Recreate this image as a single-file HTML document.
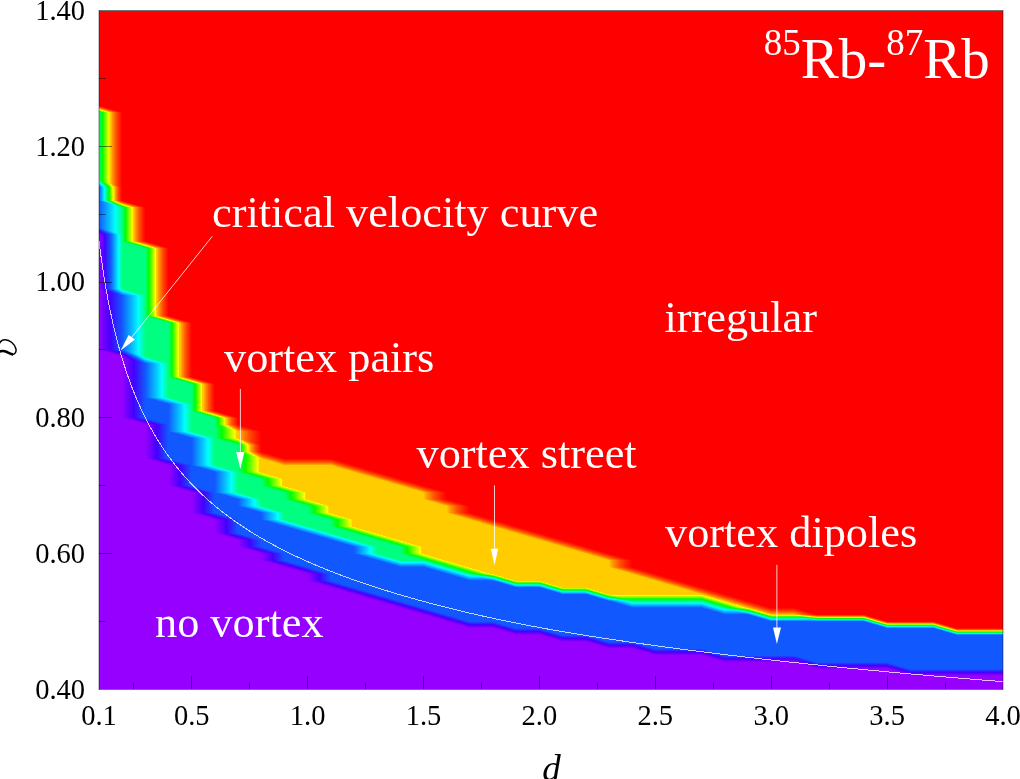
<!DOCTYPE html><html><head><meta charset="utf-8"><style>html,body{margin:0;padding:0;background:#fff;overflow:hidden}svg{display:block}text{font-family:"Liberation Serif",serif}</style></head><body><svg width="1020" height="779" viewBox="0 0 1020 779"><defs><filter id="nf"><feOffset/></filter><linearGradient id="b01"><stop offset="0" stop-color="#9500ff"/><stop offset=".5" stop-color="#4400ff"/><stop offset="1" stop-color="#1159ff"/></linearGradient><linearGradient id="b02"><stop offset="0" stop-color="#9500ff"/><stop offset=".25" stop-color="#4400ff"/><stop offset=".5" stop-color="#1159ff"/><stop offset=".62" stop-color="#0b8fff"/><stop offset=".73" stop-color="#06c5ff"/><stop offset=".85" stop-color="#00ffff"/><stop offset=".85" stop-color="#00ffff"/><stop offset=".85" stop-color="#00ffff"/><stop offset=".85" stop-color="#00ffff"/><stop offset="1" stop-color="#00ff80"/></linearGradient><linearGradient id="b12"><stop offset="0" stop-color="#1159ff"/><stop offset=".23" stop-color="#0b8fff"/><stop offset=".47" stop-color="#06c5ff"/><stop offset=".7" stop-color="#00ffff"/><stop offset=".7" stop-color="#00ffff"/><stop offset=".7" stop-color="#00ffff"/><stop offset=".7" stop-color="#00ffff"/><stop offset="1" stop-color="#00ff80"/></linearGradient><linearGradient id="b13"><stop offset="0" stop-color="#1159ff"/><stop offset=".12" stop-color="#0b8fff"/><stop offset=".23" stop-color="#06c5ff"/><stop offset=".35" stop-color="#00ffff"/><stop offset=".35" stop-color="#00ffff"/><stop offset=".35" stop-color="#00ffff"/><stop offset=".35" stop-color="#00ffff"/><stop offset=".5" stop-color="#00ff80"/><stop offset=".65" stop-color="#00ff00"/><stop offset=".65" stop-color="#00ff00"/><stop offset=".93" stop-color="#ffff00"/><stop offset=".94" stop-color="#ffff00"/><stop offset=".96" stop-color="#ffcc00"/><stop offset="1" stop-color="#ffcc00"/></linearGradient><linearGradient id="b14"><stop offset="0" stop-color="#1159ff"/><stop offset=".08" stop-color="#0b8fff"/><stop offset=".16" stop-color="#06c5ff"/><stop offset=".23" stop-color="#00ffff"/><stop offset=".23" stop-color="#00ffff"/><stop offset=".23" stop-color="#00ffff"/><stop offset=".23" stop-color="#00ffff"/><stop offset=".33" stop-color="#00ff80"/><stop offset=".43" stop-color="#00ff00"/><stop offset=".43" stop-color="#00ff00"/><stop offset=".62" stop-color="#ffff00"/><stop offset=".62" stop-color="#ffff00"/><stop offset=".64" stop-color="#ffcc00"/><stop offset=".67" stop-color="#ffcc00"/><stop offset=".71" stop-color="#ffa200"/><stop offset=".82" stop-color="#ff5100"/><stop offset=".92" stop-color="#ff2000"/><stop offset="1" stop-color="#ff0000"/></linearGradient><linearGradient id="b23"><stop offset="0" stop-color="#00ff80"/><stop offset=".3" stop-color="#00ff00"/><stop offset=".3" stop-color="#00ff00"/><stop offset=".87" stop-color="#ffff00"/><stop offset=".87" stop-color="#ffff00"/><stop offset=".92" stop-color="#ffcc00"/><stop offset="1" stop-color="#ffcc00"/></linearGradient><linearGradient id="b24"><stop offset="0" stop-color="#00ff80"/><stop offset=".15" stop-color="#00ff00"/><stop offset=".15" stop-color="#00ff00"/><stop offset=".43" stop-color="#ffff00"/><stop offset=".44" stop-color="#ffff00"/><stop offset=".46" stop-color="#ffcc00"/><stop offset=".5" stop-color="#ffcc00"/><stop offset=".56" stop-color="#ffa200"/><stop offset=".74" stop-color="#ff5100"/><stop offset=".89" stop-color="#ff2000"/><stop offset="1" stop-color="#ff0000"/></linearGradient><linearGradient id="b34"><stop offset="0" stop-color="#ffcc00"/><stop offset=".12" stop-color="#ffa200"/><stop offset=".47" stop-color="#ff5100"/><stop offset=".77" stop-color="#ff2000"/><stop offset="1" stop-color="#ff0000"/></linearGradient><linearGradient id="g0" href="#b01" gradientUnits="userSpaceOnUse" x1="113.84" y1="354.27" x2="115.67" y2="348.02"/><linearGradient id="g1" href="#b01" gradientUnits="userSpaceOnUse" x1="99" y1="0" x2="122.18" y2="0"/><linearGradient id="g2" href="#b02" gradientUnits="userSpaceOnUse" x1="111.49" y1="296.15" x2="117.41" y2="286.05"/><linearGradient id="g3" href="#b01" gradientUnits="userSpaceOnUse" x1="99" y1="293.36" x2="122.18" y2="293.36"/><linearGradient id="g4" href="#b02" gradientUnits="userSpaceOnUse" x1="99" y1="0" x2="122.18" y2="0"/><linearGradient id="g5" href="#b12" gradientUnits="userSpaceOnUse" x1="99" y1="230.01" x2="122.18" y2="230.01"/><linearGradient id="g6" href="#b02" gradientUnits="userSpaceOnUse" x1="103.77" y1="237.33" x2="109.69" y2="227.22"/><linearGradient id="g7" href="#b12" gradientUnits="userSpaceOnUse" x1="99" y1="0" x2="122.18" y2="0"/><linearGradient id="g8" href="#b14" gradientUnits="userSpaceOnUse" x1="112.79" y1="206.66" x2="116.54" y2="198.12"/><linearGradient id="g9" href="#b12" gradientUnits="userSpaceOnUse" x1="99" y1="205.12" x2="122.18" y2="205.12"/><linearGradient id="g10" href="#b14" gradientUnits="userSpaceOnUse" x1="99" y1="0" x2="122.18" y2="0"/><linearGradient id="g11" href="#b24" gradientUnits="userSpaceOnUse" x1="99" y1="182.5" x2="122.18" y2="182.5"/><linearGradient id="g12" href="#b14" gradientUnits="userSpaceOnUse" x1="102.24" y1="189.87" x2="112.34" y2="178.38"/><linearGradient id="g13" href="#b24" gradientUnits="userSpaceOnUse" x1="99" y1="0" x2="122.18" y2="0"/><linearGradient id="g14" href="#b24" gradientUnits="userSpaceOnUse" x1="105.51" y1="114.27" x2="107.34" y2="108.02"/><linearGradient id="g15" href="#b01" gradientUnits="userSpaceOnUse" x1="137.02" y1="422.15" x2="138.85" y2="415.89"/><linearGradient id="g16" href="#b01" gradientUnits="userSpaceOnUse" x1="122.18" y1="0" x2="145.36" y2="0"/><linearGradient id="g17" href="#b02" gradientUnits="userSpaceOnUse" x1="134.67" y1="364.03" x2="140.59" y2="353.92"/><linearGradient id="g18" href="#b01" gradientUnits="userSpaceOnUse" x1="122.18" y1="361.24" x2="145.36" y2="361.24"/><linearGradient id="g19" href="#b12" gradientUnits="userSpaceOnUse" x1="122.18" y1="352.19" x2="145.36" y2="352.19"/><linearGradient id="g20" href="#b02" gradientUnits="userSpaceOnUse" x1="126.95" y1="359.5" x2="132.87" y2="349.4"/><linearGradient id="g21" href="#b12" gradientUnits="userSpaceOnUse" x1="122.18" y1="0" x2="145.36" y2="0"/><linearGradient id="g22" href="#b12" gradientUnits="userSpaceOnUse" x1="128.69" y1="297.53" x2="130.52" y2="291.28"/><linearGradient id="g23" href="#b24" gradientUnits="userSpaceOnUse" x1="137.02" y1="245.67" x2="138.85" y2="239.42"/><linearGradient id="g24" href="#b24" gradientUnits="userSpaceOnUse" x1="122.18" y1="0" x2="145.36" y2="0"/><linearGradient id="g25" href="#b24" gradientUnits="userSpaceOnUse" x1="128.69" y1="209.29" x2="130.52" y2="203.04"/><linearGradient id="g26" href="#b01" gradientUnits="userSpaceOnUse" x1="160.2" y1="462.87" x2="162.03" y2="456.62"/><linearGradient id="g27" href="#b01" gradientUnits="userSpaceOnUse" x1="145.36" y1="0" x2="168.54" y2="0"/><linearGradient id="g28" href="#b01" gradientUnits="userSpaceOnUse" x1="151.87" y1="426.49" x2="153.7" y2="420.24"/><linearGradient id="g29" href="#b12" gradientUnits="userSpaceOnUse" x1="160.2" y1="401.78" x2="162.03" y2="395.53"/><linearGradient id="g30" href="#b12" gradientUnits="userSpaceOnUse" x1="145.36" y1="0" x2="168.54" y2="0"/><linearGradient id="g31" href="#b12" gradientUnits="userSpaceOnUse" x1="151.87" y1="365.41" x2="153.7" y2="359.15"/><linearGradient id="g32" href="#b24" gradientUnits="userSpaceOnUse" x1="160.2" y1="320.33" x2="162.03" y2="314.08"/><linearGradient id="g33" href="#b24" gradientUnits="userSpaceOnUse" x1="145.36" y1="0" x2="168.54" y2="0"/><linearGradient id="g34" href="#b24" gradientUnits="userSpaceOnUse" x1="151.87" y1="250.02" x2="153.7" y2="243.77"/><linearGradient id="g35" href="#b01" gradientUnits="userSpaceOnUse" x1="183.38" y1="490.02" x2="185.21" y2="483.77"/><linearGradient id="g36" href="#b01" gradientUnits="userSpaceOnUse" x1="168.54" y1="0" x2="191.72" y2="0"/><linearGradient id="g37" href="#b01" gradientUnits="userSpaceOnUse" x1="175.04" y1="467.22" x2="176.88" y2="460.97"/><linearGradient id="g38" href="#b12" gradientUnits="userSpaceOnUse" x1="183.38" y1="435.72" x2="185.21" y2="429.47"/><linearGradient id="g39" href="#b12" gradientUnits="userSpaceOnUse" x1="168.54" y1="0" x2="191.72" y2="0"/><linearGradient id="g40" href="#b12" gradientUnits="userSpaceOnUse" x1="175.04" y1="406.13" x2="176.88" y2="399.88"/><linearGradient id="g41" href="#b24" gradientUnits="userSpaceOnUse" x1="183.38" y1="381.42" x2="185.21" y2="375.17"/><linearGradient id="g42" href="#b24" gradientUnits="userSpaceOnUse" x1="168.54" y1="0" x2="191.72" y2="0"/><linearGradient id="g43" href="#b24" gradientUnits="userSpaceOnUse" x1="175.04" y1="324.68" x2="176.88" y2="318.43"/><linearGradient id="g44" href="#b01" gradientUnits="userSpaceOnUse" x1="206.56" y1="517.17" x2="208.39" y2="510.92"/><linearGradient id="g45" href="#b01" gradientUnits="userSpaceOnUse" x1="191.72" y1="0" x2="214.9" y2="0"/><linearGradient id="g46" href="#b01" gradientUnits="userSpaceOnUse" x1="198.22" y1="494.37" x2="200.05" y2="488.12"/><linearGradient id="g47" href="#b12" gradientUnits="userSpaceOnUse" x1="206.56" y1="469.66" x2="208.39" y2="463.41"/><linearGradient id="g48" href="#b12" gradientUnits="userSpaceOnUse" x1="191.72" y1="0" x2="214.9" y2="0"/><linearGradient id="g49" href="#b12" gradientUnits="userSpaceOnUse" x1="198.22" y1="440.07" x2="200.05" y2="433.82"/><linearGradient id="g50" href="#b24" gradientUnits="userSpaceOnUse" x1="206.56" y1="415.36" x2="208.39" y2="409.11"/><linearGradient id="g51" href="#b24" gradientUnits="userSpaceOnUse" x1="191.72" y1="0" x2="214.9" y2="0"/><linearGradient id="g52" href="#b24" gradientUnits="userSpaceOnUse" x1="198.22" y1="385.77" x2="200.05" y2="379.52"/><linearGradient id="g53" href="#b01" gradientUnits="userSpaceOnUse" x1="229.74" y1="537.53" x2="231.57" y2="531.28"/><linearGradient id="g54" href="#b01" gradientUnits="userSpaceOnUse" x1="214.9" y1="0" x2="238.08" y2="0"/><linearGradient id="g55" href="#b01" gradientUnits="userSpaceOnUse" x1="221.4" y1="521.52" x2="223.23" y2="515.27"/><linearGradient id="g56" href="#b12" gradientUnits="userSpaceOnUse" x1="229.74" y1="496.81" x2="231.57" y2="490.56"/><linearGradient id="g57" href="#b12" gradientUnits="userSpaceOnUse" x1="214.9" y1="0" x2="238.08" y2="0"/><linearGradient id="g58" href="#b12" gradientUnits="userSpaceOnUse" x1="221.4" y1="474.01" x2="223.23" y2="467.75"/><linearGradient id="g59" href="#b23" gradientUnits="userSpaceOnUse" x1="229.74" y1="442.51" x2="231.57" y2="436.26"/><linearGradient id="g60" href="#b23" gradientUnits="userSpaceOnUse" x1="214.9" y1="0" x2="238.08" y2="0"/><linearGradient id="g61" href="#b24" gradientUnits="userSpaceOnUse" x1="227.39" y1="431.9" x2="233.31" y2="421.8"/><linearGradient id="g62" href="#b23" gradientUnits="userSpaceOnUse" x1="214.9" y1="429.11" x2="238.08" y2="429.11"/><linearGradient id="g63" href="#b24" gradientUnits="userSpaceOnUse" x1="214.9" y1="0" x2="238.08" y2="0"/><linearGradient id="g64" href="#b24" gradientUnits="userSpaceOnUse" x1="221.4" y1="419.71" x2="223.23" y2="413.45"/><linearGradient id="g65" href="#b01" gradientUnits="userSpaceOnUse" x1="252.92" y1="551.11" x2="254.75" y2="544.86"/><linearGradient id="g66" href="#b01" gradientUnits="userSpaceOnUse" x1="238.08" y1="0" x2="261.26" y2="0"/><linearGradient id="g67" href="#b01" gradientUnits="userSpaceOnUse" x1="244.58" y1="541.88" x2="246.41" y2="535.63"/><linearGradient id="g68" href="#b12" gradientUnits="userSpaceOnUse" x1="252.92" y1="510.38" x2="254.75" y2="504.13"/><linearGradient id="g69" href="#b12" gradientUnits="userSpaceOnUse" x1="238.08" y1="0" x2="261.26" y2="0"/><linearGradient id="g70" href="#b12" gradientUnits="userSpaceOnUse" x1="244.58" y1="501.16" x2="246.41" y2="494.9"/><linearGradient id="g71" href="#b23" gradientUnits="userSpaceOnUse" x1="252.92" y1="476.45" x2="254.75" y2="470.19"/><linearGradient id="g72" href="#b23" gradientUnits="userSpaceOnUse" x1="238.08" y1="0" x2="261.26" y2="0"/><linearGradient id="g73" href="#b24" gradientUnits="userSpaceOnUse" x1="250.57" y1="459.05" x2="256.49" y2="448.95"/><linearGradient id="g74" href="#b23" gradientUnits="userSpaceOnUse" x1="238.08" y1="456.26" x2="261.26" y2="456.26"/><linearGradient id="g75" href="#b24" gradientUnits="userSpaceOnUse" x1="238.08" y1="0" x2="261.26" y2="0"/><linearGradient id="g76" href="#b34" gradientUnits="userSpaceOnUse" x1="238.08" y1="440.42" x2="261.26" y2="440.42"/><linearGradient id="g77" href="#b24" gradientUnits="userSpaceOnUse" x1="242.84" y1="447.74" x2="248.76" y2="437.63"/><linearGradient id="g78" href="#b34" gradientUnits="userSpaceOnUse" x1="238.08" y1="0" x2="261.26" y2="0"/><linearGradient id="g79" href="#b34" gradientUnits="userSpaceOnUse" x1="244.58" y1="433.28" x2="246.41" y2="427.03"/><linearGradient id="g80" href="#b01" gradientUnits="userSpaceOnUse" x1="276.1" y1="564.68" x2="277.93" y2="558.43"/><linearGradient id="g81" href="#b01" gradientUnits="userSpaceOnUse" x1="261.26" y1="0" x2="284.44" y2="0"/><linearGradient id="g82" href="#b01" gradientUnits="userSpaceOnUse" x1="267.76" y1="555.46" x2="269.59" y2="549.2"/><linearGradient id="g83" href="#b12" gradientUnits="userSpaceOnUse" x1="276.1" y1="523.96" x2="277.93" y2="517.71"/><linearGradient id="g84" href="#b12" gradientUnits="userSpaceOnUse" x1="261.26" y1="0" x2="284.44" y2="0"/><linearGradient id="g85" href="#b12" gradientUnits="userSpaceOnUse" x1="267.76" y1="514.73" x2="269.59" y2="508.48"/><linearGradient id="g86" href="#b23" gradientUnits="userSpaceOnUse" x1="276.1" y1="490.02" x2="277.93" y2="483.77"/><linearGradient id="g87" href="#b23" gradientUnits="userSpaceOnUse" x1="261.26" y1="0" x2="284.44" y2="0"/><linearGradient id="g88" href="#b23" gradientUnits="userSpaceOnUse" x1="267.76" y1="480.79" x2="269.59" y2="474.54"/><linearGradient id="g89" href="#b34" gradientUnits="userSpaceOnUse" x1="276.1" y1="462.87" x2="277.93" y2="456.62"/><linearGradient id="g90" href="#b34" gradientUnits="userSpaceOnUse" x1="267.76" y1="460.43" x2="269.59" y2="454.18"/><linearGradient id="g91" href="#b01" gradientUnits="userSpaceOnUse" x1="299.28" y1="571.47" x2="301.11" y2="565.22"/><linearGradient id="g92" href="#b01" gradientUnits="userSpaceOnUse" x1="290.94" y1="569.03" x2="292.77" y2="562.78"/><linearGradient id="g93" href="#b12" gradientUnits="userSpaceOnUse" x1="299.28" y1="530.75" x2="301.11" y2="524.49"/><linearGradient id="g94" href="#b12" gradientUnits="userSpaceOnUse" x1="290.94" y1="528.31" x2="292.77" y2="522.05"/><linearGradient id="g95" href="#b23" gradientUnits="userSpaceOnUse" x1="299.28" y1="503.6" x2="301.11" y2="497.34"/><linearGradient id="g96" href="#b23" gradientUnits="userSpaceOnUse" x1="284.44" y1="0" x2="307.62" y2="0"/><linearGradient id="g97" href="#b23" gradientUnits="userSpaceOnUse" x1="290.94" y1="494.37" x2="292.77" y2="488.12"/><linearGradient id="g98" href="#b34" gradientUnits="userSpaceOnUse" x1="299.89" y1="465.31" x2="299.89" y2="458.52"/><linearGradient id="g99" href="#b34" gradientUnits="userSpaceOnUse" x1="292.16" y1="465.31" x2="292.16" y2="458.52"/><linearGradient id="g100" href="#b01" gradientUnits="userSpaceOnUse" x1="322.46" y1="585.05" x2="324.29" y2="578.79"/><linearGradient id="g101" href="#b01" gradientUnits="userSpaceOnUse" x1="307.62" y1="0" x2="330.79" y2="0"/><linearGradient id="g102" href="#b01" gradientUnits="userSpaceOnUse" x1="314.12" y1="575.82" x2="315.95" y2="569.57"/><linearGradient id="g103" href="#b12" gradientUnits="userSpaceOnUse" x1="322.46" y1="537.53" x2="324.29" y2="531.28"/><linearGradient id="g104" href="#b12" gradientUnits="userSpaceOnUse" x1="314.12" y1="535.09" x2="315.95" y2="528.84"/><linearGradient id="g105" href="#b23" gradientUnits="userSpaceOnUse" x1="322.46" y1="517.17" x2="324.29" y2="510.92"/><linearGradient id="g106" href="#b23" gradientUnits="userSpaceOnUse" x1="307.62" y1="0" x2="330.79" y2="0"/><linearGradient id="g107" href="#b23" gradientUnits="userSpaceOnUse" x1="314.12" y1="507.94" x2="315.95" y2="501.69"/><linearGradient id="g108" href="#b34" gradientUnits="userSpaceOnUse" x1="323.07" y1="465.31" x2="323.07" y2="458.52"/><linearGradient id="g109" href="#b34" gradientUnits="userSpaceOnUse" x1="315.34" y1="465.31" x2="315.34" y2="458.53"/><linearGradient id="g110" href="#b01" gradientUnits="userSpaceOnUse" x1="345.64" y1="591.83" x2="347.47" y2="585.58"/><linearGradient id="g111" href="#b01" gradientUnits="userSpaceOnUse" x1="337.3" y1="589.39" x2="339.13" y2="583.14"/><linearGradient id="g112" href="#b12" gradientUnits="userSpaceOnUse" x1="345.64" y1="544.32" x2="347.47" y2="538.07"/><linearGradient id="g113" href="#b12" gradientUnits="userSpaceOnUse" x1="337.3" y1="541.88" x2="339.13" y2="535.63"/><linearGradient id="g114" href="#b23" gradientUnits="userSpaceOnUse" x1="345.64" y1="530.75" x2="347.47" y2="524.49"/><linearGradient id="g115" href="#b23" gradientUnits="userSpaceOnUse" x1="330.79" y1="0" x2="353.97" y2="0"/><linearGradient id="g116" href="#b23" gradientUnits="userSpaceOnUse" x1="337.3" y1="521.52" x2="339.13" y2="515.27"/><linearGradient id="g117" href="#b34" gradientUnits="userSpaceOnUse" x1="345.64" y1="469.66" x2="347.47" y2="463.41"/><linearGradient id="g118" href="#b34" gradientUnits="userSpaceOnUse" x1="337.3" y1="467.22" x2="339.13" y2="460.97"/><linearGradient id="g119" href="#b01" gradientUnits="userSpaceOnUse" x1="368.82" y1="598.62" x2="370.65" y2="592.37"/><linearGradient id="g120" href="#b01" gradientUnits="userSpaceOnUse" x1="360.48" y1="596.18" x2="362.31" y2="589.93"/><linearGradient id="g121" href="#b12" gradientUnits="userSpaceOnUse" x1="368.82" y1="557.9" x2="370.65" y2="551.64"/><linearGradient id="g122" href="#b12" gradientUnits="userSpaceOnUse" x1="353.97" y1="0" x2="377.15" y2="0"/><linearGradient id="g123" href="#b12" gradientUnits="userSpaceOnUse" x1="360.48" y1="548.67" x2="362.31" y2="542.42"/><linearGradient id="g124" href="#b23" gradientUnits="userSpaceOnUse" x1="368.82" y1="537.53" x2="370.65" y2="531.28"/><linearGradient id="g125" href="#b23" gradientUnits="userSpaceOnUse" x1="360.48" y1="535.09" x2="362.31" y2="528.84"/><linearGradient id="g126" href="#b34" gradientUnits="userSpaceOnUse" x1="368.82" y1="476.45" x2="370.65" y2="470.19"/><linearGradient id="g127" href="#b34" gradientUnits="userSpaceOnUse" x1="360.48" y1="474.01" x2="362.31" y2="467.75"/><linearGradient id="g128" href="#b01" gradientUnits="userSpaceOnUse" x1="392" y1="605.41" x2="393.83" y2="599.16"/><linearGradient id="g129" href="#b01" gradientUnits="userSpaceOnUse" x1="383.66" y1="602.97" x2="385.49" y2="596.72"/><linearGradient id="g130" href="#b12" gradientUnits="userSpaceOnUse" x1="392" y1="564.68" x2="393.83" y2="558.43"/><linearGradient id="g131" href="#b12" gradientUnits="userSpaceOnUse" x1="383.66" y1="562.24" x2="385.49" y2="555.99"/><linearGradient id="g132" href="#b23" gradientUnits="userSpaceOnUse" x1="392" y1="544.32" x2="393.83" y2="538.07"/><linearGradient id="g133" href="#b23" gradientUnits="userSpaceOnUse" x1="383.66" y1="541.88" x2="385.49" y2="535.63"/><linearGradient id="g134" href="#b34" gradientUnits="userSpaceOnUse" x1="392" y1="483.23" x2="393.83" y2="476.98"/><linearGradient id="g135" href="#b34" gradientUnits="userSpaceOnUse" x1="383.66" y1="480.79" x2="385.49" y2="474.54"/><linearGradient id="g136" href="#b01" gradientUnits="userSpaceOnUse" x1="415.18" y1="612.2" x2="417.01" y2="605.94"/><linearGradient id="g137" href="#b01" gradientUnits="userSpaceOnUse" x1="406.84" y1="609.76" x2="408.67" y2="603.5"/><linearGradient id="g138" href="#b12" gradientUnits="userSpaceOnUse" x1="415.79" y1="567.12" x2="415.79" y2="560.34"/><linearGradient id="g139" href="#b12" gradientUnits="userSpaceOnUse" x1="408.06" y1="567.12" x2="408.06" y2="560.34"/><linearGradient id="g140" href="#b23" gradientUnits="userSpaceOnUse" x1="415.18" y1="557.9" x2="417.01" y2="551.64"/><linearGradient id="g141" href="#b23" gradientUnits="userSpaceOnUse" x1="400.33" y1="0" x2="423.51" y2="0"/><linearGradient id="g142" href="#b23" gradientUnits="userSpaceOnUse" x1="406.84" y1="548.67" x2="408.67" y2="542.42"/><linearGradient id="g143" href="#b34" gradientUnits="userSpaceOnUse" x1="415.18" y1="490.02" x2="417.01" y2="483.77"/><linearGradient id="g144" href="#b34" gradientUnits="userSpaceOnUse" x1="406.84" y1="487.58" x2="408.67" y2="481.33"/><linearGradient id="g145" href="#b01" gradientUnits="userSpaceOnUse" x1="438.36" y1="618.98" x2="440.19" y2="612.73"/><linearGradient id="g146" href="#b01" gradientUnits="userSpaceOnUse" x1="430.02" y1="616.54" x2="431.85" y2="610.29"/><linearGradient id="g147" href="#b12" gradientUnits="userSpaceOnUse" x1="438.36" y1="571.47" x2="440.19" y2="565.22"/><linearGradient id="g148" href="#b23" gradientUnits="userSpaceOnUse" x1="438.36" y1="564.68" x2="440.19" y2="558.43"/><linearGradient id="g149" href="#b12" gradientUnits="userSpaceOnUse" x1="430.02" y1="569.03" x2="431.85" y2="562.78"/><linearGradient id="g150" href="#b23" gradientUnits="userSpaceOnUse" x1="430.02" y1="562.24" x2="431.85" y2="555.99"/><linearGradient id="g151" href="#b34" gradientUnits="userSpaceOnUse" x1="438.36" y1="503.6" x2="440.19" y2="497.34"/><linearGradient id="g152" href="#b34" gradientUnits="userSpaceOnUse" x1="423.51" y1="0" x2="446.69" y2="0"/><linearGradient id="g153" href="#b34" gradientUnits="userSpaceOnUse" x1="430.02" y1="494.37" x2="431.85" y2="488.12"/><linearGradient id="g154" href="#b01" gradientUnits="userSpaceOnUse" x1="461.54" y1="625.77" x2="463.37" y2="619.52"/><linearGradient id="g155" href="#b01" gradientUnits="userSpaceOnUse" x1="453.2" y1="623.33" x2="455.03" y2="617.08"/><linearGradient id="g156" href="#b12" gradientUnits="userSpaceOnUse" x1="461.54" y1="578.26" x2="463.37" y2="572.01"/><linearGradient id="g157" href="#b23" gradientUnits="userSpaceOnUse" x1="461.54" y1="571.47" x2="463.37" y2="565.22"/><linearGradient id="g158" href="#b12" gradientUnits="userSpaceOnUse" x1="453.2" y1="575.82" x2="455.03" y2="569.57"/><linearGradient id="g159" href="#b23" gradientUnits="userSpaceOnUse" x1="453.2" y1="569.03" x2="455.03" y2="562.78"/><linearGradient id="g160" href="#b34" gradientUnits="userSpaceOnUse" x1="461.54" y1="517.17" x2="463.37" y2="510.92"/><linearGradient id="g161" href="#b34" gradientUnits="userSpaceOnUse" x1="446.69" y1="0" x2="469.87" y2="0"/><linearGradient id="g162" href="#b34" gradientUnits="userSpaceOnUse" x1="453.2" y1="507.94" x2="455.03" y2="501.69"/><linearGradient id="g163" href="#b01" gradientUnits="userSpaceOnUse" x1="485.32" y1="628.21" x2="485.32" y2="621.43"/><linearGradient id="g164" href="#b01" gradientUnits="userSpaceOnUse" x1="477.6" y1="628.21" x2="477.6" y2="621.42"/><linearGradient id="g165" href="#b13" gradientUnits="userSpaceOnUse" x1="484.84" y1="579.5" x2="485.81" y2="572.85"/><linearGradient id="g166" href="#b12" gradientUnits="userSpaceOnUse" x1="477.6" y1="580.7" x2="477.6" y2="573.91"/><linearGradient id="g167" href="#b23" gradientUnits="userSpaceOnUse" x1="476.38" y1="575.82" x2="478.21" y2="569.57"/><linearGradient id="g168" href="#b34" gradientUnits="userSpaceOnUse" x1="484.71" y1="523.96" x2="486.55" y2="517.71"/><linearGradient id="g169" href="#b34" gradientUnits="userSpaceOnUse" x1="476.38" y1="521.52" x2="478.21" y2="515.27"/><linearGradient id="g170" href="#b01" gradientUnits="userSpaceOnUse" x1="507.89" y1="632.56" x2="509.72" y2="626.31"/><linearGradient id="g171" href="#b01" gradientUnits="userSpaceOnUse" x1="499.56" y1="630.12" x2="501.39" y2="623.87"/><linearGradient id="g172" href="#b13" gradientUnits="userSpaceOnUse" x1="507.89" y1="585.05" x2="509.72" y2="578.79"/><linearGradient id="g173" href="#b13" gradientUnits="userSpaceOnUse" x1="499.56" y1="582.61" x2="501.39" y2="576.35"/><linearGradient id="g174" href="#b34" gradientUnits="userSpaceOnUse" x1="507.89" y1="530.75" x2="509.72" y2="524.49"/><linearGradient id="g175" href="#b34" gradientUnits="userSpaceOnUse" x1="499.56" y1="528.31" x2="501.39" y2="522.05"/><linearGradient id="g176" href="#b01" gradientUnits="userSpaceOnUse" x1="531.68" y1="635" x2="531.68" y2="628.21"/><linearGradient id="g177" href="#b01" gradientUnits="userSpaceOnUse" x1="523.96" y1="635" x2="523.96" y2="628.21"/><linearGradient id="g178" href="#b13" gradientUnits="userSpaceOnUse" x1="531.68" y1="587.49" x2="531.68" y2="580.7"/><linearGradient id="g179" href="#b13" gradientUnits="userSpaceOnUse" x1="523.96" y1="587.49" x2="523.96" y2="580.7"/><linearGradient id="g180" href="#b34" gradientUnits="userSpaceOnUse" x1="531.07" y1="537.53" x2="532.9" y2="531.28"/><linearGradient id="g181" href="#b34" gradientUnits="userSpaceOnUse" x1="522.74" y1="535.09" x2="524.57" y2="528.84"/><linearGradient id="g182" href="#b01" gradientUnits="userSpaceOnUse" x1="554.25" y1="639.35" x2="556.08" y2="633.09"/><linearGradient id="g183" href="#b01" gradientUnits="userSpaceOnUse" x1="545.92" y1="636.91" x2="547.75" y2="630.65"/><linearGradient id="g184" href="#b13" gradientUnits="userSpaceOnUse" x1="554.25" y1="591.83" x2="556.08" y2="585.58"/><linearGradient id="g185" href="#b13" gradientUnits="userSpaceOnUse" x1="545.92" y1="589.39" x2="547.75" y2="583.14"/><linearGradient id="g186" href="#b34" gradientUnits="userSpaceOnUse" x1="554.25" y1="544.32" x2="556.08" y2="538.07"/><linearGradient id="g187" href="#b34" gradientUnits="userSpaceOnUse" x1="545.92" y1="541.88" x2="547.75" y2="535.63"/><linearGradient id="g188" href="#b01" gradientUnits="userSpaceOnUse" x1="578.04" y1="641.79" x2="578.04" y2="635"/><linearGradient id="g189" href="#b01" gradientUnits="userSpaceOnUse" x1="570.32" y1="641.79" x2="570.32" y2="635"/><linearGradient id="g190" href="#b13" gradientUnits="userSpaceOnUse" x1="578.04" y1="594.28" x2="578.04" y2="587.49"/><linearGradient id="g191" href="#b13" gradientUnits="userSpaceOnUse" x1="570.32" y1="594.27" x2="570.32" y2="587.49"/><linearGradient id="g192" href="#b34" gradientUnits="userSpaceOnUse" x1="577.43" y1="551.11" x2="579.26" y2="544.86"/><linearGradient id="g193" href="#b34" gradientUnits="userSpaceOnUse" x1="569.1" y1="548.67" x2="570.93" y2="542.42"/><linearGradient id="g194" href="#b01" gradientUnits="userSpaceOnUse" x1="600.61" y1="646.13" x2="602.44" y2="639.88"/><linearGradient id="g195" href="#b01" gradientUnits="userSpaceOnUse" x1="592.28" y1="643.69" x2="594.11" y2="637.44"/><linearGradient id="g196" href="#b13" gradientUnits="userSpaceOnUse" x1="600.61" y1="598.62" x2="602.44" y2="592.37"/><linearGradient id="g197" href="#b13" gradientUnits="userSpaceOnUse" x1="592.28" y1="596.18" x2="594.11" y2="589.93"/><linearGradient id="g198" href="#b34" gradientUnits="userSpaceOnUse" x1="600.61" y1="557.9" x2="602.44" y2="551.64"/><linearGradient id="g199" href="#b34" gradientUnits="userSpaceOnUse" x1="592.28" y1="555.46" x2="594.11" y2="549.2"/><linearGradient id="g200" href="#b01" gradientUnits="userSpaceOnUse" x1="624.4" y1="648.57" x2="624.4" y2="641.79"/><linearGradient id="g201" href="#b01" gradientUnits="userSpaceOnUse" x1="616.68" y1="648.57" x2="616.68" y2="641.79"/><linearGradient id="g202" href="#b12" gradientUnits="userSpaceOnUse" x1="623.79" y1="605.41" x2="625.62" y2="599.16"/><linearGradient id="g203" href="#b23" gradientUnits="userSpaceOnUse" x1="624.4" y1="601.06" x2="624.4" y2="594.27"/><linearGradient id="g204" href="#b13" gradientUnits="userSpaceOnUse" x1="616.19" y1="602.12" x2="617.16" y2="595.48"/><linearGradient id="g205" href="#b34" gradientUnits="userSpaceOnUse" x1="623.79" y1="571.47" x2="625.62" y2="565.22"/><linearGradient id="g206" href="#b34" gradientUnits="userSpaceOnUse" x1="608.95" y1="0" x2="632.13" y2="0"/><linearGradient id="g207" href="#b34" gradientUnits="userSpaceOnUse" x1="615.45" y1="562.24" x2="617.29" y2="555.99"/><linearGradient id="g208" href="#b01" gradientUnits="userSpaceOnUse" x1="646.97" y1="652.92" x2="648.8" y2="646.67"/><linearGradient id="g209" href="#b01" gradientUnits="userSpaceOnUse" x1="638.63" y1="650.48" x2="640.46" y2="644.23"/><linearGradient id="g210" href="#b12" gradientUnits="userSpaceOnUse" x1="647.58" y1="607.85" x2="647.58" y2="601.06"/><linearGradient id="g211" href="#b12" gradientUnits="userSpaceOnUse" x1="639.85" y1="607.85" x2="639.85" y2="601.06"/><linearGradient id="g212" href="#b23" gradientUnits="userSpaceOnUse" x1="647.58" y1="601.06" x2="647.58" y2="594.28"/><linearGradient id="g213" href="#b23" gradientUnits="userSpaceOnUse" x1="639.85" y1="601.06" x2="639.85" y2="594.27"/><linearGradient id="g214" href="#b34" gradientUnits="userSpaceOnUse" x1="646.97" y1="578.26" x2="648.8" y2="572.01"/><linearGradient id="g215" href="#b34" gradientUnits="userSpaceOnUse" x1="638.63" y1="575.82" x2="640.46" y2="569.57"/><linearGradient id="g216" href="#b01" gradientUnits="userSpaceOnUse" x1="670.76" y1="655.36" x2="670.76" y2="648.57"/><linearGradient id="g217" href="#b01" gradientUnits="userSpaceOnUse" x1="663.03" y1="655.36" x2="663.03" y2="648.57"/><linearGradient id="g218" href="#b12" gradientUnits="userSpaceOnUse" x1="670.76" y1="607.85" x2="670.76" y2="601.06"/><linearGradient id="g219" href="#b12" gradientUnits="userSpaceOnUse" x1="663.03" y1="607.85" x2="663.03" y2="601.06"/><linearGradient id="g220" href="#b23" gradientUnits="userSpaceOnUse" x1="670.76" y1="601.06" x2="670.76" y2="594.27"/><linearGradient id="g221" href="#b23" gradientUnits="userSpaceOnUse" x1="663.03" y1="601.06" x2="663.03" y2="594.27"/><linearGradient id="g222" href="#b34" gradientUnits="userSpaceOnUse" x1="670.15" y1="585.05" x2="671.98" y2="578.79"/><linearGradient id="g223" href="#b34" gradientUnits="userSpaceOnUse" x1="661.81" y1="582.61" x2="663.64" y2="576.35"/><linearGradient id="g224" href="#b01" gradientUnits="userSpaceOnUse" x1="693.94" y1="655.36" x2="693.94" y2="648.58"/><linearGradient id="g225" href="#b01" gradientUnits="userSpaceOnUse" x1="686.21" y1="655.36" x2="686.21" y2="648.57"/><linearGradient id="g226" href="#b12" gradientUnits="userSpaceOnUse" x1="693.94" y1="607.85" x2="693.94" y2="601.06"/><linearGradient id="g227" href="#b12" gradientUnits="userSpaceOnUse" x1="686.21" y1="607.85" x2="686.21" y2="601.06"/><linearGradient id="g228" href="#b23" gradientUnits="userSpaceOnUse" x1="693.94" y1="601.06" x2="693.94" y2="594.27"/><linearGradient id="g229" href="#b23" gradientUnits="userSpaceOnUse" x1="686.21" y1="601.06" x2="686.21" y2="594.27"/><linearGradient id="g230" href="#b34" gradientUnits="userSpaceOnUse" x1="693.33" y1="591.83" x2="695.16" y2="585.58"/><linearGradient id="g231" href="#b34" gradientUnits="userSpaceOnUse" x1="684.99" y1="589.39" x2="686.82" y2="583.14"/><linearGradient id="g232" href="#b01" gradientUnits="userSpaceOnUse" x1="716.51" y1="659.71" x2="718.34" y2="653.46"/><linearGradient id="g233" href="#b01" gradientUnits="userSpaceOnUse" x1="708.17" y1="657.27" x2="710" y2="651.02"/><linearGradient id="g234" href="#b12" gradientUnits="userSpaceOnUse" x1="716.51" y1="612.2" x2="718.34" y2="605.94"/><linearGradient id="g235" href="#b23" gradientUnits="userSpaceOnUse" x1="716.51" y1="605.41" x2="718.34" y2="599.16"/><linearGradient id="g236" href="#b12" gradientUnits="userSpaceOnUse" x1="708.17" y1="609.76" x2="710" y2="603.5"/><linearGradient id="g237" href="#b34" gradientUnits="userSpaceOnUse" x1="716.51" y1="598.62" x2="718.34" y2="592.37"/><linearGradient id="g238" href="#b23" gradientUnits="userSpaceOnUse" x1="708.17" y1="602.97" x2="710" y2="596.72"/><linearGradient id="g239" href="#b34" gradientUnits="userSpaceOnUse" x1="708.17" y1="596.18" x2="710" y2="589.93"/><linearGradient id="g240" href="#b01" gradientUnits="userSpaceOnUse" x1="740.3" y1="662.15" x2="740.3" y2="655.36"/><linearGradient id="g241" href="#b01" gradientUnits="userSpaceOnUse" x1="732.57" y1="662.15" x2="732.57" y2="655.36"/><linearGradient id="g242" href="#b13" gradientUnits="userSpaceOnUse" x1="739.81" y1="613.44" x2="740.79" y2="606.79"/><linearGradient id="g243" href="#b12" gradientUnits="userSpaceOnUse" x1="732.57" y1="614.64" x2="732.57" y2="607.85"/><linearGradient id="g244" href="#b34" gradientUnits="userSpaceOnUse" x1="739.69" y1="605.41" x2="741.52" y2="599.16"/><linearGradient id="g245" href="#b23" gradientUnits="userSpaceOnUse" x1="731.35" y1="609.76" x2="733.18" y2="603.5"/><linearGradient id="g246" href="#b34" gradientUnits="userSpaceOnUse" x1="731.35" y1="602.97" x2="733.18" y2="596.72"/><linearGradient id="g247" href="#b01" gradientUnits="userSpaceOnUse" x1="763.48" y1="662.15" x2="763.48" y2="655.36"/><linearGradient id="g248" href="#b01" gradientUnits="userSpaceOnUse" x1="755.75" y1="662.15" x2="755.75" y2="655.36"/><linearGradient id="g249" href="#b13" gradientUnits="userSpaceOnUse" x1="762.87" y1="618.98" x2="764.7" y2="612.73"/><linearGradient id="g250" href="#b34" gradientUnits="userSpaceOnUse" x1="762.87" y1="612.2" x2="764.7" y2="605.94"/><linearGradient id="g251" href="#b13" gradientUnits="userSpaceOnUse" x1="754.53" y1="616.54" x2="756.36" y2="610.29"/><linearGradient id="g252" href="#b34" gradientUnits="userSpaceOnUse" x1="754.53" y1="609.76" x2="756.36" y2="603.5"/><linearGradient id="g253" href="#b01" gradientUnits="userSpaceOnUse" x1="786.66" y1="662.15" x2="786.66" y2="655.36"/><linearGradient id="g254" href="#b01" gradientUnits="userSpaceOnUse" x1="778.93" y1="662.15" x2="778.93" y2="655.36"/><linearGradient id="g255" href="#b13" gradientUnits="userSpaceOnUse" x1="786.66" y1="621.43" x2="786.66" y2="614.64"/><linearGradient id="g256" href="#b13" gradientUnits="userSpaceOnUse" x1="778.93" y1="621.42" x2="778.93" y2="614.64"/><linearGradient id="g257" href="#b34" gradientUnits="userSpaceOnUse" x1="786.66" y1="614.64" x2="786.66" y2="607.85"/><linearGradient id="g258" href="#b34" gradientUnits="userSpaceOnUse" x1="778.93" y1="614.64" x2="778.93" y2="607.85"/><linearGradient id="g259" href="#b01" gradientUnits="userSpaceOnUse" x1="809.23" y1="666.5" x2="811.06" y2="660.24"/><linearGradient id="g260" href="#b01" gradientUnits="userSpaceOnUse" x1="800.89" y1="664.06" x2="802.72" y2="657.8"/><linearGradient id="g261" href="#b14" gradientUnits="userSpaceOnUse" x1="809.47" y1="620.64" x2="810.13" y2="613.91"/><linearGradient id="g262" href="#b13" gradientUnits="userSpaceOnUse" x1="802.11" y1="621.42" x2="802.11" y2="614.64"/><linearGradient id="g263" href="#b34" gradientUnits="userSpaceOnUse" x1="800.89" y1="616.54" x2="802.72" y2="610.29"/><linearGradient id="g264" href="#b01" gradientUnits="userSpaceOnUse" x1="833.02" y1="668.94" x2="833.02" y2="662.15"/><linearGradient id="g265" href="#b01" gradientUnits="userSpaceOnUse" x1="825.29" y1="668.94" x2="825.29" y2="662.15"/><linearGradient id="g266" href="#b14" gradientUnits="userSpaceOnUse" x1="833.02" y1="621.42" x2="833.02" y2="614.64"/><linearGradient id="g267" href="#b14" gradientUnits="userSpaceOnUse" x1="825.29" y1="621.42" x2="825.29" y2="614.64"/><linearGradient id="g268" href="#b01" gradientUnits="userSpaceOnUse" x1="856.2" y1="668.94" x2="856.2" y2="662.15"/><linearGradient id="g269" href="#b01" gradientUnits="userSpaceOnUse" x1="848.47" y1="668.94" x2="848.47" y2="662.15"/><linearGradient id="g270" href="#b14" gradientUnits="userSpaceOnUse" x1="856.2" y1="621.42" x2="856.2" y2="614.64"/><linearGradient id="g271" href="#b14" gradientUnits="userSpaceOnUse" x1="848.47" y1="621.43" x2="848.47" y2="614.64"/><linearGradient id="g272" href="#b01" gradientUnits="userSpaceOnUse" x1="879.38" y1="668.94" x2="879.38" y2="662.15"/><linearGradient id="g273" href="#b01" gradientUnits="userSpaceOnUse" x1="871.65" y1="668.94" x2="871.65" y2="662.15"/><linearGradient id="g274" href="#b14" gradientUnits="userSpaceOnUse" x1="878.77" y1="625.77" x2="880.6" y2="619.52"/><linearGradient id="g275" href="#b14" gradientUnits="userSpaceOnUse" x1="870.43" y1="623.33" x2="872.26" y2="617.08"/><linearGradient id="g276" href="#b01" gradientUnits="userSpaceOnUse" x1="901.95" y1="673.28" x2="903.78" y2="667.03"/><linearGradient id="g277" href="#b01" gradientUnits="userSpaceOnUse" x1="893.61" y1="670.84" x2="895.44" y2="664.59"/><linearGradient id="g278" href="#b14" gradientUnits="userSpaceOnUse" x1="902.56" y1="628.21" x2="902.56" y2="621.42"/><linearGradient id="g279" href="#b14" gradientUnits="userSpaceOnUse" x1="894.83" y1="628.21" x2="894.83" y2="621.43"/><linearGradient id="g280" href="#b01" gradientUnits="userSpaceOnUse" x1="925.74" y1="675.72" x2="925.74" y2="668.94"/><linearGradient id="g281" href="#b01" gradientUnits="userSpaceOnUse" x1="918.01" y1="675.72" x2="918.01" y2="668.94"/><linearGradient id="g282" href="#b14" gradientUnits="userSpaceOnUse" x1="925.74" y1="628.21" x2="925.74" y2="621.43"/><linearGradient id="g283" href="#b14" gradientUnits="userSpaceOnUse" x1="918.01" y1="628.21" x2="918.01" y2="621.42"/><linearGradient id="g284" href="#b01" gradientUnits="userSpaceOnUse" x1="948.91" y1="675.72" x2="948.91" y2="668.94"/><linearGradient id="g285" href="#b01" gradientUnits="userSpaceOnUse" x1="941.19" y1="675.72" x2="941.19" y2="668.94"/><linearGradient id="g286" href="#b14" gradientUnits="userSpaceOnUse" x1="948.3" y1="632.56" x2="950.13" y2="626.31"/><linearGradient id="g287" href="#b14" gradientUnits="userSpaceOnUse" x1="939.97" y1="630.12" x2="941.8" y2="623.87"/><linearGradient id="g288" href="#b01" gradientUnits="userSpaceOnUse" x1="972.09" y1="675.72" x2="972.09" y2="668.94"/><linearGradient id="g289" href="#b01" gradientUnits="userSpaceOnUse" x1="964.37" y1="675.72" x2="964.37" y2="668.94"/><linearGradient id="g290" href="#b14" gradientUnits="userSpaceOnUse" x1="972.09" y1="635" x2="972.09" y2="628.21"/><linearGradient id="g291" href="#b14" gradientUnits="userSpaceOnUse" x1="964.37" y1="635" x2="964.37" y2="628.21"/><linearGradient id="g292" href="#b01" gradientUnits="userSpaceOnUse" x1="995.27" y1="675.73" x2="995.27" y2="668.94"/><linearGradient id="g293" href="#b01" gradientUnits="userSpaceOnUse" x1="987.55" y1="675.72" x2="987.55" y2="668.94"/><linearGradient id="g294" href="#b14" gradientUnits="userSpaceOnUse" x1="995.27" y1="635" x2="995.27" y2="628.21"/><linearGradient id="g295" href="#b14" gradientUnits="userSpaceOnUse" x1="987.55" y1="635" x2="987.55" y2="628.21"/><clipPath id="pc"><rect x="99" y="11" width="904" height="678"/></clipPath></defs><rect width="1020" height="779" fill="#fff"/><g shape-rendering="crispEdges"><rect x="99" y="11" width="904" height="678" fill="#f00"/><rect x="99" y="356.71" width="23.18" height="332.59" fill="#9500ff"/><polygon points="99,349.92 122.18,349.92 122.18,356.71" fill="url(#g0)"/><polygon points="99,349.92 122.18,356.71 99,356.71" fill="#9500ff"/><rect x="99" y="295.62" width="23.18" height="54.3" fill="url(#g1)"/><polygon points="99,288.84 122.18,288.84 122.18,295.62" fill="url(#g2)"/><polygon points="99,288.84 122.18,295.62 99,295.62" fill="url(#g3)"/><rect x="99" y="234.54" width="23.18" height="54.3" fill="url(#g4)"/><polygon points="99,227.75 122.18,227.75 122.18,234.54" fill="url(#g5)"/><polygon points="99,227.75 122.18,234.54 99,234.54" fill="url(#g6)"/><rect x="99" y="207.39" width="23.18" height="20.36" fill="url(#g7)"/><polygon points="99,200.6 122.18,200.6 122.18,207.39" fill="url(#g8)"/><polygon points="99,200.6 122.18,207.39 99,207.39" fill="url(#g9)"/><rect x="99" y="187.02" width="23.18" height="13.57" fill="url(#g10)"/><polygon points="99,180.24 122.18,180.24 122.18,187.02" fill="url(#g11)"/><polygon points="99,180.24 122.18,187.02 99,187.02" fill="url(#g12)"/><rect x="99" y="112.36" width="23.18" height="67.88" fill="url(#g13)"/><polygon points="99,105.57 122.18,112.36 99,112.36" fill="url(#g14)"/><rect x="122.18" y="424.59" width="23.18" height="264.71" fill="#9500ff"/><polygon points="122.18,417.8 145.36,417.8 145.36,424.59" fill="url(#g15)"/><polygon points="122.18,417.8 145.36,424.59 122.18,424.59" fill="#9500ff"/><rect x="122.18" y="363.5" width="23.18" height="54.3" fill="url(#g16)"/><polygon points="122.18,356.71 145.36,356.71 145.36,363.5" fill="url(#g17)"/><polygon points="122.18,356.71 145.36,363.5 122.18,363.5" fill="url(#g18)"/><polygon points="122.18,349.92 145.36,349.92 145.36,356.71" fill="url(#g19)"/><polygon points="122.18,349.92 145.36,356.71 122.18,356.71" fill="url(#g20)"/><rect x="122.18" y="295.62" width="23.18" height="54.3" fill="url(#g21)"/><polygon points="122.18,288.84 145.36,288.84 145.36,295.62" fill="#00ff80"/><polygon points="122.18,288.84 145.36,295.62 122.18,295.62" fill="url(#g22)"/><rect x="122.18" y="248.11" width="23.18" height="40.73" fill="#00ff80"/><polygon points="122.18,241.32 145.36,241.32 145.36,248.11" fill="url(#g23)"/><polygon points="122.18,241.32 145.36,248.11 122.18,248.11" fill="#00ff80"/><rect x="122.18" y="207.39" width="23.18" height="33.94" fill="url(#g24)"/><polygon points="122.18,200.6 145.36,207.39 122.18,207.39" fill="url(#g25)"/><rect x="145.36" y="465.31" width="23.18" height="223.99" fill="#9500ff"/><polygon points="145.36,458.52 168.54,458.52 168.54,465.31" fill="url(#g26)"/><polygon points="145.36,458.52 168.54,465.31 145.36,465.31" fill="#9500ff"/><rect x="145.36" y="424.59" width="23.18" height="33.94" fill="url(#g27)"/><polygon points="145.36,417.8 168.54,417.8 168.54,424.59" fill="#1159ff"/><polygon points="145.36,417.8 168.54,424.59 145.36,424.59" fill="url(#g28)"/><rect x="145.36" y="404.22" width="23.18" height="13.57" fill="#1159ff"/><polygon points="145.36,397.44 168.54,397.44 168.54,404.22" fill="url(#g29)"/><polygon points="145.36,397.44 168.54,404.22 145.36,404.22" fill="#1159ff"/><rect x="145.36" y="363.5" width="23.18" height="33.94" fill="url(#g30)"/><polygon points="145.36,356.71 168.54,356.71 168.54,363.5" fill="#00ff80"/><polygon points="145.36,356.71 168.54,363.5 145.36,363.5" fill="url(#g31)"/><rect x="145.36" y="322.77" width="23.18" height="33.94" fill="#00ff80"/><polygon points="145.36,315.99 168.54,315.99 168.54,322.77" fill="url(#g32)"/><polygon points="145.36,315.99 168.54,322.77 145.36,322.77" fill="#00ff80"/><rect x="145.36" y="248.11" width="23.18" height="67.88" fill="url(#g33)"/><polygon points="145.36,241.32 168.54,248.11 145.36,248.11" fill="url(#g34)"/><rect x="168.54" y="492.46" width="23.18" height="196.84" fill="#9500ff"/><polygon points="168.54,485.67 191.72,485.67 191.72,492.46" fill="url(#g35)"/><polygon points="168.54,485.67 191.72,492.46 168.54,492.46" fill="#9500ff"/><rect x="168.54" y="465.31" width="23.18" height="20.36" fill="url(#g36)"/><polygon points="168.54,458.52 191.72,458.52 191.72,465.31" fill="#1159ff"/><polygon points="168.54,458.52 191.72,465.31 168.54,465.31" fill="url(#g37)"/><rect x="168.54" y="438.16" width="23.18" height="20.36" fill="#1159ff"/><polygon points="168.54,431.37 191.72,431.37 191.72,438.16" fill="url(#g38)"/><polygon points="168.54,431.37 191.72,438.16 168.54,438.16" fill="#1159ff"/><rect x="168.54" y="404.22" width="23.18" height="27.15" fill="url(#g39)"/><polygon points="168.54,397.44 191.72,397.44 191.72,404.22" fill="#00ff80"/><polygon points="168.54,397.44 191.72,404.22 168.54,404.22" fill="url(#g40)"/><rect x="168.54" y="383.86" width="23.18" height="13.57" fill="#00ff80"/><polygon points="168.54,377.07 191.72,377.07 191.72,383.86" fill="url(#g41)"/><polygon points="168.54,377.07 191.72,383.86 168.54,383.86" fill="#00ff80"/><rect x="168.54" y="322.77" width="23.18" height="54.3" fill="url(#g42)"/><polygon points="168.54,315.99 191.72,322.77 168.54,322.77" fill="url(#g43)"/><rect x="191.72" y="519.61" width="23.18" height="169.69" fill="#9500ff"/><polygon points="191.72,512.82 214.9,512.82 214.9,519.61" fill="url(#g44)"/><polygon points="191.72,512.82 214.9,519.61 191.72,519.61" fill="#9500ff"/><rect x="191.72" y="492.46" width="23.18" height="20.36" fill="url(#g45)"/><polygon points="191.72,485.67 214.9,485.67 214.9,492.46" fill="#1159ff"/><polygon points="191.72,485.67 214.9,492.46 191.72,492.46" fill="url(#g46)"/><rect x="191.72" y="472.1" width="23.18" height="13.57" fill="#1159ff"/><polygon points="191.72,465.31 214.9,465.31 214.9,472.1" fill="url(#g47)"/><polygon points="191.72,465.31 214.9,472.1 191.72,472.1" fill="#1159ff"/><rect x="191.72" y="438.16" width="23.18" height="27.15" fill="url(#g48)"/><polygon points="191.72,431.37 214.9,431.37 214.9,438.16" fill="#00ff80"/><polygon points="191.72,431.37 214.9,438.16 191.72,438.16" fill="url(#g49)"/><rect x="191.72" y="417.8" width="23.18" height="13.57" fill="#00ff80"/><polygon points="191.72,411.01 214.9,411.01 214.9,417.8" fill="url(#g50)"/><polygon points="191.72,411.01 214.9,417.8 191.72,417.8" fill="#00ff80"/><rect x="191.72" y="383.86" width="23.18" height="27.15" fill="url(#g51)"/><polygon points="191.72,377.07 214.9,383.86 191.72,383.86" fill="url(#g52)"/><rect x="214.9" y="539.97" width="23.18" height="149.33" fill="#9500ff"/><polygon points="214.9,533.19 238.08,533.19 238.08,539.97" fill="url(#g53)"/><polygon points="214.9,533.19 238.08,539.97 214.9,539.97" fill="#9500ff"/><rect x="214.9" y="519.61" width="23.18" height="13.58" fill="url(#g54)"/><polygon points="214.9,512.82 238.08,512.82 238.08,519.61" fill="#1159ff"/><polygon points="214.9,512.82 238.08,519.61 214.9,519.61" fill="url(#g55)"/><rect x="214.9" y="499.25" width="23.18" height="13.57" fill="#1159ff"/><polygon points="214.9,492.46 238.08,492.46 238.08,499.25" fill="url(#g56)"/><polygon points="214.9,492.46 238.08,499.25 214.9,499.25" fill="#1159ff"/><rect x="214.9" y="472.1" width="23.18" height="20.36" fill="url(#g57)"/><polygon points="214.9,465.31 238.08,465.31 238.08,472.1" fill="#00ff80"/><polygon points="214.9,465.31 238.08,472.1 214.9,472.1" fill="url(#g58)"/><rect x="214.9" y="444.95" width="23.18" height="20.36" fill="#00ff80"/><polygon points="214.9,438.16 238.08,438.16 238.08,444.95" fill="url(#g59)"/><polygon points="214.9,438.16 238.08,444.95 214.9,444.95" fill="#00ff80"/><rect x="214.9" y="431.37" width="23.18" height="6.79" fill="url(#g60)"/><polygon points="214.9,424.59 238.08,424.59 238.08,431.37" fill="url(#g61)"/><polygon points="214.9,424.59 238.08,431.37 214.9,431.37" fill="url(#g62)"/><rect x="214.9" y="417.8" width="23.18" height="6.79" fill="url(#g63)"/><polygon points="214.9,411.01 238.08,417.8 214.9,417.8" fill="url(#g64)"/><rect x="238.08" y="553.55" width="23.18" height="135.75" fill="#9500ff"/><polygon points="238.08,546.76 261.26,546.76 261.26,553.55" fill="url(#g65)"/><polygon points="238.08,546.76 261.26,553.55 238.08,553.55" fill="#9500ff"/><rect x="238.08" y="539.97" width="23.18" height="6.79" fill="url(#g66)"/><polygon points="238.08,533.19 261.26,533.19 261.26,539.97" fill="#1159ff"/><polygon points="238.08,533.19 261.26,539.97 238.08,539.97" fill="url(#g67)"/><rect x="238.08" y="512.82" width="23.18" height="20.36" fill="#1159ff"/><polygon points="238.08,506.04 261.26,506.04 261.26,512.82" fill="url(#g68)"/><polygon points="238.08,506.04 261.26,512.82 238.08,512.82" fill="#1159ff"/><rect x="238.08" y="499.25" width="23.18" height="6.79" fill="url(#g69)"/><polygon points="238.08,492.46 261.26,492.46 261.26,499.25" fill="#00ff80"/><polygon points="238.08,492.46 261.26,499.25 238.08,499.25" fill="url(#g70)"/><rect x="238.08" y="478.89" width="23.18" height="13.58" fill="#00ff80"/><polygon points="238.08,472.1 261.26,472.1 261.26,478.89" fill="url(#g71)"/><polygon points="238.08,472.1 261.26,478.89 238.08,478.89" fill="#00ff80"/><rect x="238.08" y="458.52" width="23.18" height="13.57" fill="url(#g72)"/><polygon points="238.08,451.74 261.26,451.74 261.26,458.52" fill="url(#g73)"/><polygon points="238.08,451.74 261.26,458.52 238.08,458.52" fill="url(#g74)"/><rect x="238.08" y="444.95" width="23.18" height="6.79" fill="url(#g75)"/><polygon points="238.08,438.16 261.26,438.16 261.26,444.95" fill="url(#g76)"/><polygon points="238.08,438.16 261.26,444.95 238.08,444.95" fill="url(#g77)"/><rect x="238.08" y="431.37" width="23.18" height="6.79" fill="url(#g78)"/><polygon points="238.08,424.59 261.26,431.37 238.08,431.37" fill="url(#g79)"/><rect x="261.26" y="567.12" width="23.18" height="122.17" fill="#9500ff"/><polygon points="261.26,560.34 284.44,560.34 284.44,567.12" fill="url(#g80)"/><polygon points="261.26,560.34 284.44,567.12 261.26,567.12" fill="#9500ff"/><rect x="261.26" y="553.55" width="23.18" height="6.79" fill="url(#g81)"/><polygon points="261.26,546.76 284.44,546.76 284.44,553.55" fill="#1159ff"/><polygon points="261.26,546.76 284.44,553.55 261.26,553.55" fill="url(#g82)"/><rect x="261.26" y="526.4" width="23.18" height="20.36" fill="#1159ff"/><polygon points="261.26,519.61 284.44,519.61 284.44,526.4" fill="url(#g83)"/><polygon points="261.26,519.61 284.44,526.4 261.26,526.4" fill="#1159ff"/><rect x="261.26" y="512.82" width="23.18" height="6.79" fill="url(#g84)"/><polygon points="261.26,506.04 284.44,506.04 284.44,512.82" fill="#00ff80"/><polygon points="261.26,506.04 284.44,512.82 261.26,512.82" fill="url(#g85)"/><rect x="261.26" y="492.46" width="23.18" height="13.57" fill="#00ff80"/><polygon points="261.26,485.67 284.44,485.67 284.44,492.46" fill="url(#g86)"/><polygon points="261.26,485.67 284.44,492.46 261.26,492.46" fill="#00ff80"/><rect x="261.26" y="478.89" width="23.18" height="6.79" fill="url(#g87)"/><polygon points="261.26,472.1 284.44,472.1 284.44,478.89" fill="#ffcc00"/><polygon points="261.26,472.1 284.44,478.89 261.26,478.89" fill="url(#g88)"/><rect x="261.26" y="465.31" width="23.18" height="6.79" fill="#ffcc00"/><polygon points="261.26,458.52 284.44,458.52 284.44,465.31" fill="url(#g89)"/><polygon points="261.26,458.52 284.44,465.31 261.26,465.31" fill="#ffcc00"/><polygon points="261.26,451.74 284.44,458.52 261.26,458.52" fill="url(#g90)"/><rect x="284.44" y="573.91" width="23.18" height="115.39" fill="#9500ff"/><polygon points="284.44,567.12 307.62,567.12 307.62,573.91" fill="url(#g91)"/><polygon points="284.44,567.12 307.62,573.91 284.44,573.91" fill="#9500ff"/><polygon points="284.44,560.34 307.62,560.34 307.62,567.12" fill="#1159ff"/><polygon points="284.44,560.34 307.62,567.12 284.44,567.12" fill="url(#g92)"/><rect x="284.44" y="533.19" width="23.18" height="27.15" fill="#1159ff"/><polygon points="284.44,526.4 307.62,526.4 307.62,533.19" fill="url(#g93)"/><polygon points="284.44,526.4 307.62,533.19 284.44,533.19" fill="#1159ff"/><polygon points="284.44,519.61 307.62,519.61 307.62,526.4" fill="#00ff80"/><polygon points="284.44,519.61 307.62,526.4 284.44,526.4" fill="url(#g94)"/><rect x="284.44" y="506.04" width="23.18" height="13.57" fill="#00ff80"/><polygon points="284.44,499.25 307.62,499.25 307.62,506.04" fill="url(#g95)"/><polygon points="284.44,499.25 307.62,506.04 284.44,506.04" fill="#00ff80"/><rect x="284.44" y="492.46" width="23.18" height="6.79" fill="url(#g96)"/><polygon points="284.44,485.67 307.62,485.67 307.62,492.46" fill="#ffcc00"/><polygon points="284.44,485.67 307.62,492.46 284.44,492.46" fill="url(#g97)"/><rect x="284.44" y="465.31" width="23.18" height="20.36" fill="#ffcc00"/><polygon points="284.44,458.52 307.62,458.52 307.62,465.31" fill="url(#g98)"/><polygon points="284.44,458.52 307.62,465.31 284.44,465.31" fill="url(#g99)"/><rect x="307.62" y="587.49" width="23.18" height="101.81" fill="#9500ff"/><polygon points="307.62,580.7 330.79,580.7 330.79,587.49" fill="url(#g100)"/><polygon points="307.62,580.7 330.79,587.49 307.62,587.49" fill="#9500ff"/><rect x="307.62" y="573.91" width="23.18" height="6.79" fill="url(#g101)"/><polygon points="307.62,567.12 330.79,567.12 330.79,573.91" fill="#1159ff"/><polygon points="307.62,567.12 330.79,573.91 307.62,573.91" fill="url(#g102)"/><rect x="307.62" y="539.97" width="23.18" height="27.15" fill="#1159ff"/><polygon points="307.62,533.19 330.79,533.19 330.79,539.97" fill="url(#g103)"/><polygon points="307.62,533.19 330.79,539.97 307.62,539.97" fill="#1159ff"/><polygon points="307.62,526.4 330.79,526.4 330.79,533.19" fill="#00ff80"/><polygon points="307.62,526.4 330.79,533.19 307.62,533.19" fill="url(#g104)"/><rect x="307.62" y="519.61" width="23.18" height="6.79" fill="#00ff80"/><polygon points="307.62,512.82 330.79,512.82 330.79,519.61" fill="url(#g105)"/><polygon points="307.62,512.82 330.79,519.61 307.62,519.61" fill="#00ff80"/><rect x="307.62" y="506.04" width="23.18" height="6.79" fill="url(#g106)"/><polygon points="307.62,499.25 330.79,499.25 330.79,506.04" fill="#ffcc00"/><polygon points="307.62,499.25 330.79,506.04 307.62,506.04" fill="url(#g107)"/><rect x="307.62" y="465.31" width="23.18" height="33.94" fill="#ffcc00"/><polygon points="307.62,458.52 330.79,458.52 330.79,465.31" fill="url(#g108)"/><polygon points="307.62,458.52 330.79,465.31 307.62,465.31" fill="url(#g109)"/><rect x="330.79" y="594.27" width="23.18" height="95.02" fill="#9500ff"/><polygon points="330.79,587.49 353.97,587.49 353.97,594.27" fill="url(#g110)"/><polygon points="330.79,587.49 353.97,594.27 330.79,594.27" fill="#9500ff"/><polygon points="330.79,580.7 353.97,580.7 353.97,587.49" fill="#1159ff"/><polygon points="330.79,580.7 353.97,587.49 330.79,587.49" fill="url(#g111)"/><rect x="330.79" y="546.76" width="23.18" height="33.94" fill="#1159ff"/><polygon points="330.79,539.97 353.97,539.97 353.97,546.76" fill="url(#g112)"/><polygon points="330.79,539.97 353.97,546.76 330.79,546.76" fill="#1159ff"/><polygon points="330.79,533.19 353.97,533.19 353.97,539.97" fill="#00ff80"/><polygon points="330.79,533.19 353.97,539.97 330.79,539.97" fill="url(#g113)"/><polygon points="330.79,526.4 353.97,526.4 353.97,533.19" fill="url(#g114)"/><polygon points="330.79,526.4 353.97,533.19 330.79,533.19" fill="#00ff80"/><rect x="330.79" y="519.61" width="23.18" height="6.79" fill="url(#g115)"/><polygon points="330.79,512.82 353.97,512.82 353.97,519.61" fill="#ffcc00"/><polygon points="330.79,512.82 353.97,519.61 330.79,519.61" fill="url(#g116)"/><rect x="330.79" y="472.1" width="23.18" height="40.72" fill="#ffcc00"/><polygon points="330.79,465.31 353.97,465.31 353.97,472.1" fill="url(#g117)"/><polygon points="330.79,465.31 353.97,472.1 330.79,472.1" fill="#ffcc00"/><polygon points="330.79,458.52 353.97,465.31 330.79,465.31" fill="url(#g118)"/><rect x="353.97" y="601.06" width="23.18" height="88.24" fill="#9500ff"/><polygon points="353.97,594.27 377.15,594.27 377.15,601.06" fill="url(#g119)"/><polygon points="353.97,594.27 377.15,601.06 353.97,601.06" fill="#9500ff"/><polygon points="353.97,587.49 377.15,587.49 377.15,594.27" fill="#1159ff"/><polygon points="353.97,587.49 377.15,594.27 353.97,594.27" fill="url(#g120)"/><rect x="353.97" y="560.34" width="23.18" height="27.15" fill="#1159ff"/><polygon points="353.97,553.55 377.15,553.55 377.15,560.34" fill="url(#g121)"/><polygon points="353.97,553.55 377.15,560.34 353.97,560.34" fill="#1159ff"/><rect x="353.97" y="546.76" width="23.18" height="6.79" fill="url(#g122)"/><polygon points="353.97,539.97 377.15,539.97 377.15,546.76" fill="#00ff80"/><polygon points="353.97,539.97 377.15,546.76 353.97,546.76" fill="url(#g123)"/><polygon points="353.97,533.19 377.15,533.19 377.15,539.97" fill="url(#g124)"/><polygon points="353.97,533.19 377.15,539.97 353.97,539.97" fill="#00ff80"/><polygon points="353.97,526.4 377.15,526.4 377.15,533.19" fill="#ffcc00"/><polygon points="353.97,526.4 377.15,533.19 353.97,533.19" fill="url(#g125)"/><rect x="353.97" y="478.89" width="23.18" height="47.51" fill="#ffcc00"/><polygon points="353.97,472.1 377.15,472.1 377.15,478.89" fill="url(#g126)"/><polygon points="353.97,472.1 377.15,478.89 353.97,478.89" fill="#ffcc00"/><polygon points="353.97,465.31 377.15,472.1 353.97,472.1" fill="url(#g127)"/><rect x="377.15" y="607.85" width="23.18" height="81.45" fill="#9500ff"/><polygon points="377.15,601.06 400.33,601.06 400.33,607.85" fill="url(#g128)"/><polygon points="377.15,601.06 400.33,607.85 377.15,607.85" fill="#9500ff"/><polygon points="377.15,594.27 400.33,594.27 400.33,601.06" fill="#1159ff"/><polygon points="377.15,594.27 400.33,601.06 377.15,601.06" fill="url(#g129)"/><rect x="377.15" y="567.12" width="23.18" height="27.15" fill="#1159ff"/><polygon points="377.15,560.34 400.33,560.34 400.33,567.12" fill="url(#g130)"/><polygon points="377.15,560.34 400.33,567.12 377.15,567.12" fill="#1159ff"/><polygon points="377.15,553.55 400.33,553.55 400.33,560.34" fill="#00ff80"/><polygon points="377.15,553.55 400.33,560.34 377.15,560.34" fill="url(#g131)"/><rect x="377.15" y="546.76" width="23.18" height="6.79" fill="#00ff80"/><polygon points="377.15,539.97 400.33,539.97 400.33,546.76" fill="url(#g132)"/><polygon points="377.15,539.97 400.33,546.76 377.15,546.76" fill="#00ff80"/><polygon points="377.15,533.19 400.33,533.19 400.33,539.97" fill="#ffcc00"/><polygon points="377.15,533.19 400.33,539.97 377.15,539.97" fill="url(#g133)"/><rect x="377.15" y="485.67" width="23.18" height="47.51" fill="#ffcc00"/><polygon points="377.15,478.89 400.33,478.89 400.33,485.67" fill="url(#g134)"/><polygon points="377.15,478.89 400.33,485.67 377.15,485.67" fill="#ffcc00"/><polygon points="377.15,472.1 400.33,478.89 377.15,478.89" fill="url(#g135)"/><rect x="400.33" y="614.64" width="23.18" height="74.66" fill="#9500ff"/><polygon points="400.33,607.85 423.51,607.85 423.51,614.64" fill="url(#g136)"/><polygon points="400.33,607.85 423.51,614.64 400.33,614.64" fill="#9500ff"/><polygon points="400.33,601.06 423.51,601.06 423.51,607.85" fill="#1159ff"/><polygon points="400.33,601.06 423.51,607.85 400.33,607.85" fill="url(#g137)"/><rect x="400.33" y="567.12" width="23.18" height="33.94" fill="#1159ff"/><polygon points="400.33,560.34 423.51,560.34 423.51,567.12" fill="url(#g138)"/><polygon points="400.33,560.34 423.51,567.12 400.33,567.12" fill="url(#g139)"/><polygon points="400.33,553.55 423.51,553.55 423.51,560.34" fill="url(#g140)"/><polygon points="400.33,553.55 423.51,560.34 400.33,560.34" fill="#00ff80"/><rect x="400.33" y="546.76" width="23.18" height="6.79" fill="url(#g141)"/><polygon points="400.33,539.97 423.51,539.97 423.51,546.76" fill="#ffcc00"/><polygon points="400.33,539.97 423.51,546.76 400.33,546.76" fill="url(#g142)"/><rect x="400.33" y="492.46" width="23.18" height="47.51" fill="#ffcc00"/><polygon points="400.33,485.67 423.51,485.67 423.51,492.46" fill="url(#g143)"/><polygon points="400.33,485.67 423.51,492.46 400.33,492.46" fill="#ffcc00"/><polygon points="400.33,478.89 423.51,485.67 400.33,485.67" fill="url(#g144)"/><rect x="423.51" y="621.42" width="23.18" height="67.88" fill="#9500ff"/><polygon points="423.51,614.64 446.69,614.64 446.69,621.42" fill="url(#g145)"/><polygon points="423.51,614.64 446.69,621.42 423.51,621.42" fill="#9500ff"/><polygon points="423.51,607.85 446.69,607.85 446.69,614.64" fill="#1159ff"/><polygon points="423.51,607.85 446.69,614.64 423.51,614.64" fill="url(#g146)"/><rect x="423.51" y="573.91" width="23.18" height="33.94" fill="#1159ff"/><polygon points="423.51,567.12 446.69,567.12 446.69,573.91" fill="url(#g147)"/><polygon points="423.51,567.12 446.69,573.91 423.51,573.91" fill="#1159ff"/><polygon points="423.51,560.34 446.69,560.34 446.69,567.12" fill="url(#g148)"/><polygon points="423.51,560.34 446.69,567.12 423.51,567.12" fill="url(#g149)"/><polygon points="423.51,553.55 446.69,553.55 446.69,560.34" fill="#ffcc00"/><polygon points="423.51,553.55 446.69,560.34 423.51,560.34" fill="url(#g150)"/><rect x="423.51" y="506.04" width="23.18" height="47.51" fill="#ffcc00"/><polygon points="423.51,499.25 446.69,499.25 446.69,506.04" fill="url(#g151)"/><polygon points="423.51,499.25 446.69,506.04 423.51,506.04" fill="#ffcc00"/><rect x="423.51" y="492.46" width="23.18" height="6.79" fill="url(#g152)"/><polygon points="423.51,485.67 446.69,492.46 423.51,492.46" fill="url(#g153)"/><rect x="446.69" y="628.21" width="23.18" height="61.09" fill="#9500ff"/><polygon points="446.69,621.42 469.87,621.42 469.87,628.21" fill="url(#g154)"/><polygon points="446.69,621.42 469.87,628.21 446.69,628.21" fill="#9500ff"/><polygon points="446.69,614.64 469.87,614.64 469.87,621.42" fill="#1159ff"/><polygon points="446.69,614.64 469.87,621.42 446.69,621.42" fill="url(#g155)"/><rect x="446.69" y="580.7" width="23.18" height="33.94" fill="#1159ff"/><polygon points="446.69,573.91 469.87,573.91 469.87,580.7" fill="url(#g156)"/><polygon points="446.69,573.91 469.87,580.7 446.69,580.7" fill="#1159ff"/><polygon points="446.69,567.12 469.87,567.12 469.87,573.91" fill="url(#g157)"/><polygon points="446.69,567.12 469.87,573.91 446.69,573.91" fill="url(#g158)"/><polygon points="446.69,560.34 469.87,560.34 469.87,567.12" fill="#ffcc00"/><polygon points="446.69,560.34 469.87,567.12 446.69,567.12" fill="url(#g159)"/><rect x="446.69" y="519.61" width="23.18" height="40.73" fill="#ffcc00"/><polygon points="446.69,512.82 469.87,512.82 469.87,519.61" fill="url(#g160)"/><polygon points="446.69,512.82 469.87,519.61 446.69,519.61" fill="#ffcc00"/><rect x="446.69" y="506.04" width="23.18" height="6.79" fill="url(#g161)"/><polygon points="446.69,499.25 469.87,506.04 446.69,506.04" fill="url(#g162)"/><rect x="469.87" y="628.21" width="23.18" height="61.09" fill="#9500ff"/><polygon points="469.87,621.42 493.05,621.42 493.05,628.21" fill="url(#g163)"/><polygon points="469.87,621.42 493.05,628.21 469.87,628.21" fill="url(#g164)"/><rect x="469.87" y="580.7" width="23.18" height="40.73" fill="#1159ff"/><polygon points="469.87,573.91 493.05,573.91 493.05,580.7" fill="url(#g165)"/><polygon points="469.87,573.91 493.05,580.7 469.87,580.7" fill="url(#g166)"/><polygon points="469.87,567.12 493.05,567.12 493.05,573.91" fill="#ffcc00"/><polygon points="469.87,567.12 493.05,573.91 469.87,573.91" fill="url(#g167)"/><rect x="469.87" y="526.4" width="23.18" height="40.73" fill="#ffcc00"/><polygon points="469.87,519.61 493.05,519.61 493.05,526.4" fill="url(#g168)"/><polygon points="469.87,519.61 493.05,526.4 469.87,526.4" fill="#ffcc00"/><polygon points="469.87,512.82 493.05,519.61 469.87,519.61" fill="url(#g169)"/><rect x="493.05" y="635" width="23.18" height="54.3" fill="#9500ff"/><polygon points="493.05,628.21 516.23,628.21 516.23,635" fill="url(#g170)"/><polygon points="493.05,628.21 516.23,635 493.05,635" fill="#9500ff"/><polygon points="493.05,621.42 516.23,621.42 516.23,628.21" fill="#1159ff"/><polygon points="493.05,621.42 516.23,628.21 493.05,628.21" fill="url(#g171)"/><rect x="493.05" y="587.49" width="23.18" height="33.94" fill="#1159ff"/><polygon points="493.05,580.7 516.23,580.7 516.23,587.49" fill="url(#g172)"/><polygon points="493.05,580.7 516.23,587.49 493.05,587.49" fill="#1159ff"/><polygon points="493.05,573.91 516.23,573.91 516.23,580.7" fill="#ffcc00"/><polygon points="493.05,573.91 516.23,580.7 493.05,580.7" fill="url(#g173)"/><rect x="493.05" y="533.19" width="23.18" height="40.72" fill="#ffcc00"/><polygon points="493.05,526.4 516.23,526.4 516.23,533.19" fill="url(#g174)"/><polygon points="493.05,526.4 516.23,533.19 493.05,533.19" fill="#ffcc00"/><polygon points="493.05,519.61 516.23,526.4 493.05,526.4" fill="url(#g175)"/><rect x="516.23" y="635" width="23.18" height="54.3" fill="#9500ff"/><polygon points="516.23,628.21 539.41,628.21 539.41,635" fill="url(#g176)"/><polygon points="516.23,628.21 539.41,635 516.23,635" fill="url(#g177)"/><rect x="516.23" y="587.49" width="23.18" height="40.73" fill="#1159ff"/><polygon points="516.23,580.7 539.41,580.7 539.41,587.49" fill="url(#g178)"/><polygon points="516.23,580.7 539.41,587.49 516.23,587.49" fill="url(#g179)"/><rect x="516.23" y="539.97" width="23.18" height="40.73" fill="#ffcc00"/><polygon points="516.23,533.19 539.41,533.19 539.41,539.97" fill="url(#g180)"/><polygon points="516.23,533.19 539.41,539.97 516.23,539.97" fill="#ffcc00"/><polygon points="516.23,526.4 539.41,533.19 516.23,533.19" fill="url(#g181)"/><rect x="539.41" y="641.79" width="23.18" height="47.51" fill="#9500ff"/><polygon points="539.41,635 562.59,635 562.59,641.79" fill="url(#g182)"/><polygon points="539.41,635 562.59,641.79 539.41,641.79" fill="#9500ff"/><polygon points="539.41,628.21 562.59,628.21 562.59,635" fill="#1159ff"/><polygon points="539.41,628.21 562.59,635 539.41,635" fill="url(#g183)"/><rect x="539.41" y="594.27" width="23.18" height="33.94" fill="#1159ff"/><polygon points="539.41,587.49 562.59,587.49 562.59,594.27" fill="url(#g184)"/><polygon points="539.41,587.49 562.59,594.27 539.41,594.27" fill="#1159ff"/><polygon points="539.41,580.7 562.59,580.7 562.59,587.49" fill="#ffcc00"/><polygon points="539.41,580.7 562.59,587.49 539.41,587.49" fill="url(#g185)"/><rect x="539.41" y="546.76" width="23.18" height="33.94" fill="#ffcc00"/><polygon points="539.41,539.97 562.59,539.97 562.59,546.76" fill="url(#g186)"/><polygon points="539.41,539.97 562.59,546.76 539.41,546.76" fill="#ffcc00"/><polygon points="539.41,533.19 562.59,539.97 539.41,539.97" fill="url(#g187)"/><rect x="562.59" y="641.79" width="23.18" height="47.51" fill="#9500ff"/><polygon points="562.59,635 585.77,635 585.77,641.79" fill="url(#g188)"/><polygon points="562.59,635 585.77,641.79 562.59,641.79" fill="url(#g189)"/><rect x="562.59" y="594.27" width="23.18" height="40.73" fill="#1159ff"/><polygon points="562.59,587.49 585.77,587.49 585.77,594.27" fill="url(#g190)"/><polygon points="562.59,587.49 585.77,594.27 562.59,594.27" fill="url(#g191)"/><rect x="562.59" y="553.55" width="23.18" height="33.94" fill="#ffcc00"/><polygon points="562.59,546.76 585.77,546.76 585.77,553.55" fill="url(#g192)"/><polygon points="562.59,546.76 585.77,553.55 562.59,553.55" fill="#ffcc00"/><polygon points="562.59,539.97 585.77,546.76 562.59,546.76" fill="url(#g193)"/><rect x="585.77" y="648.57" width="23.18" height="40.73" fill="#9500ff"/><polygon points="585.77,641.79 608.95,641.79 608.95,648.57" fill="url(#g194)"/><polygon points="585.77,641.79 608.95,648.57 585.77,648.57" fill="#9500ff"/><polygon points="585.77,635 608.95,635 608.95,641.79" fill="#1159ff"/><polygon points="585.77,635 608.95,641.79 585.77,641.79" fill="url(#g195)"/><rect x="585.77" y="601.06" width="23.18" height="33.94" fill="#1159ff"/><polygon points="585.77,594.27 608.95,594.27 608.95,601.06" fill="url(#g196)"/><polygon points="585.77,594.27 608.95,601.06 585.77,601.06" fill="#1159ff"/><polygon points="585.77,587.49 608.95,587.49 608.95,594.27" fill="#ffcc00"/><polygon points="585.77,587.49 608.95,594.27 585.77,594.27" fill="url(#g197)"/><rect x="585.77" y="560.34" width="23.18" height="27.15" fill="#ffcc00"/><polygon points="585.77,553.55 608.95,553.55 608.95,560.34" fill="url(#g198)"/><polygon points="585.77,553.55 608.95,560.34 585.77,560.34" fill="#ffcc00"/><polygon points="585.77,546.76 608.95,553.55 585.77,553.55" fill="url(#g199)"/><rect x="608.95" y="648.57" width="23.18" height="40.73" fill="#9500ff"/><polygon points="608.95,641.79 632.13,641.79 632.13,648.57" fill="url(#g200)"/><polygon points="608.95,641.79 632.13,648.57 608.95,648.57" fill="url(#g201)"/><rect x="608.95" y="607.85" width="23.18" height="33.94" fill="#1159ff"/><polygon points="608.95,601.06 632.13,601.06 632.13,607.85" fill="url(#g202)"/><polygon points="608.95,601.06 632.13,607.85 608.95,607.85" fill="#1159ff"/><polygon points="608.95,594.27 632.13,594.27 632.13,601.06" fill="url(#g203)"/><polygon points="608.95,594.27 632.13,601.06 608.95,601.06" fill="url(#g204)"/><rect x="608.95" y="573.91" width="23.18" height="20.36" fill="#ffcc00"/><polygon points="608.95,567.12 632.13,567.12 632.13,573.91" fill="url(#g205)"/><polygon points="608.95,567.12 632.13,573.91 608.95,573.91" fill="#ffcc00"/><rect x="608.95" y="560.34" width="23.18" height="6.79" fill="url(#g206)"/><polygon points="608.95,553.55 632.13,560.34 608.95,560.34" fill="url(#g207)"/><rect x="632.13" y="655.36" width="23.18" height="33.94" fill="#9500ff"/><polygon points="632.13,648.57 655.31,648.57 655.31,655.36" fill="url(#g208)"/><polygon points="632.13,648.57 655.31,655.36 632.13,655.36" fill="#9500ff"/><polygon points="632.13,641.79 655.31,641.79 655.31,648.57" fill="#1159ff"/><polygon points="632.13,641.79 655.31,648.57 632.13,648.57" fill="url(#g209)"/><rect x="632.13" y="607.85" width="23.18" height="33.94" fill="#1159ff"/><polygon points="632.13,601.06 655.31,601.06 655.31,607.85" fill="url(#g210)"/><polygon points="632.13,601.06 655.31,607.85 632.13,607.85" fill="url(#g211)"/><polygon points="632.13,594.27 655.31,594.27 655.31,601.06" fill="url(#g212)"/><polygon points="632.13,594.27 655.31,601.06 632.13,601.06" fill="url(#g213)"/><rect x="632.13" y="580.7" width="23.18" height="13.58" fill="#ffcc00"/><polygon points="632.13,573.91 655.31,573.91 655.31,580.7" fill="url(#g214)"/><polygon points="632.13,573.91 655.31,580.7 632.13,580.7" fill="#ffcc00"/><polygon points="632.13,567.12 655.31,573.91 632.13,573.91" fill="url(#g215)"/><rect x="655.31" y="655.36" width="23.18" height="33.94" fill="#9500ff"/><polygon points="655.31,648.57 678.49,648.57 678.49,655.36" fill="url(#g216)"/><polygon points="655.31,648.57 678.49,655.36 655.31,655.36" fill="url(#g217)"/><rect x="655.31" y="607.85" width="23.18" height="40.73" fill="#1159ff"/><polygon points="655.31,601.06 678.49,601.06 678.49,607.85" fill="url(#g218)"/><polygon points="655.31,601.06 678.49,607.85 655.31,607.85" fill="url(#g219)"/><polygon points="655.31,594.27 678.49,594.27 678.49,601.06" fill="url(#g220)"/><polygon points="655.31,594.27 678.49,601.06 655.31,601.06" fill="url(#g221)"/><rect x="655.31" y="587.49" width="23.18" height="6.79" fill="#ffcc00"/><polygon points="655.31,580.7 678.49,580.7 678.49,587.49" fill="url(#g222)"/><polygon points="655.31,580.7 678.49,587.49 655.31,587.49" fill="#ffcc00"/><polygon points="655.31,573.91 678.49,580.7 655.31,580.7" fill="url(#g223)"/><rect x="678.49" y="655.36" width="23.18" height="33.94" fill="#9500ff"/><polygon points="678.49,648.57 701.67,648.57 701.67,655.36" fill="url(#g224)"/><polygon points="678.49,648.57 701.67,655.36 678.49,655.36" fill="url(#g225)"/><rect x="678.49" y="607.85" width="23.18" height="40.73" fill="#1159ff"/><polygon points="678.49,601.06 701.67,601.06 701.67,607.85" fill="url(#g226)"/><polygon points="678.49,601.06 701.67,607.85 678.49,607.85" fill="url(#g227)"/><polygon points="678.49,594.27 701.67,594.27 701.67,601.06" fill="url(#g228)"/><polygon points="678.49,594.27 701.67,601.06 678.49,601.06" fill="url(#g229)"/><polygon points="678.49,587.49 701.67,587.49 701.67,594.27" fill="url(#g230)"/><polygon points="678.49,587.49 701.67,594.27 678.49,594.27" fill="#ffcc00"/><polygon points="678.49,580.7 701.67,587.49 678.49,587.49" fill="url(#g231)"/><rect x="701.67" y="662.15" width="23.18" height="27.15" fill="#9500ff"/><polygon points="701.67,655.36 724.85,655.36 724.85,662.15" fill="url(#g232)"/><polygon points="701.67,655.36 724.85,662.15 701.67,662.15" fill="#9500ff"/><polygon points="701.67,648.57 724.85,648.57 724.85,655.36" fill="#1159ff"/><polygon points="701.67,648.57 724.85,655.36 701.67,655.36" fill="url(#g233)"/><rect x="701.67" y="614.64" width="23.18" height="33.94" fill="#1159ff"/><polygon points="701.67,607.85 724.85,607.85 724.85,614.64" fill="url(#g234)"/><polygon points="701.67,607.85 724.85,614.64 701.67,614.64" fill="#1159ff"/><polygon points="701.67,601.06 724.85,601.06 724.85,607.85" fill="url(#g235)"/><polygon points="701.67,601.06 724.85,607.85 701.67,607.85" fill="url(#g236)"/><polygon points="701.67,594.27 724.85,594.27 724.85,601.06" fill="url(#g237)"/><polygon points="701.67,594.27 724.85,601.06 701.67,601.06" fill="url(#g238)"/><polygon points="701.67,587.49 724.85,594.27 701.67,594.27" fill="url(#g239)"/><rect x="724.85" y="662.15" width="23.18" height="27.15" fill="#9500ff"/><polygon points="724.85,655.36 748.03,655.36 748.03,662.15" fill="url(#g240)"/><polygon points="724.85,655.36 748.03,662.15 724.85,662.15" fill="url(#g241)"/><rect x="724.85" y="614.64" width="23.18" height="40.73" fill="#1159ff"/><polygon points="724.85,607.85 748.03,607.85 748.03,614.64" fill="url(#g242)"/><polygon points="724.85,607.85 748.03,614.64 724.85,614.64" fill="url(#g243)"/><polygon points="724.85,601.06 748.03,601.06 748.03,607.85" fill="url(#g244)"/><polygon points="724.85,601.06 748.03,607.85 724.85,607.85" fill="url(#g245)"/><polygon points="724.85,594.27 748.03,601.06 724.85,601.06" fill="url(#g246)"/><rect x="748.03" y="662.15" width="23.18" height="27.15" fill="#9500ff"/><polygon points="748.03,655.36 771.21,655.36 771.21,662.15" fill="url(#g247)"/><polygon points="748.03,655.36 771.21,662.15 748.03,662.15" fill="url(#g248)"/><rect x="748.03" y="621.42" width="23.18" height="33.94" fill="#1159ff"/><polygon points="748.03,614.64 771.21,614.64 771.21,621.42" fill="url(#g249)"/><polygon points="748.03,614.64 771.21,621.42 748.03,621.42" fill="#1159ff"/><polygon points="748.03,607.85 771.21,607.85 771.21,614.64" fill="url(#g250)"/><polygon points="748.03,607.85 771.21,614.64 748.03,614.64" fill="url(#g251)"/><polygon points="748.03,601.06 771.21,607.85 748.03,607.85" fill="url(#g252)"/><rect x="771.21" y="662.15" width="23.18" height="27.15" fill="#9500ff"/><polygon points="771.21,655.36 794.38,655.36 794.38,662.15" fill="url(#g253)"/><polygon points="771.21,655.36 794.38,662.15 771.21,662.15" fill="url(#g254)"/><rect x="771.21" y="621.42" width="23.18" height="33.94" fill="#1159ff"/><polygon points="771.21,614.64 794.38,614.64 794.38,621.42" fill="url(#g255)"/><polygon points="771.21,614.64 794.38,621.42 771.21,621.42" fill="url(#g256)"/><polygon points="771.21,607.85 794.38,607.85 794.38,614.64" fill="url(#g257)"/><polygon points="771.21,607.85 794.38,614.64 771.21,614.64" fill="url(#g258)"/><rect x="794.38" y="668.94" width="23.18" height="20.36" fill="#9500ff"/><polygon points="794.38,662.15 817.56,662.15 817.56,668.94" fill="url(#g259)"/><polygon points="794.38,662.15 817.56,668.94 794.38,668.94" fill="#9500ff"/><polygon points="794.38,655.36 817.56,655.36 817.56,662.15" fill="#1159ff"/><polygon points="794.38,655.36 817.56,662.15 794.38,662.15" fill="url(#g260)"/><rect x="794.38" y="621.42" width="23.18" height="33.94" fill="#1159ff"/><polygon points="794.38,614.64 817.56,614.64 817.56,621.42" fill="url(#g261)"/><polygon points="794.38,614.64 817.56,621.42 794.38,621.42" fill="url(#g262)"/><polygon points="794.38,607.85 817.56,614.64 794.38,614.64" fill="url(#g263)"/><rect x="817.56" y="668.94" width="23.18" height="20.36" fill="#9500ff"/><polygon points="817.56,662.15 840.74,662.15 840.74,668.94" fill="url(#g264)"/><polygon points="817.56,662.15 840.74,668.94 817.56,668.94" fill="url(#g265)"/><rect x="817.56" y="621.42" width="23.18" height="40.73" fill="#1159ff"/><polygon points="817.56,614.64 840.74,614.64 840.74,621.42" fill="url(#g266)"/><polygon points="817.56,614.64 840.74,621.42 817.56,621.42" fill="url(#g267)"/><rect x="840.74" y="668.94" width="23.18" height="20.36" fill="#9500ff"/><polygon points="840.74,662.15 863.92,662.15 863.92,668.94" fill="url(#g268)"/><polygon points="840.74,662.15 863.92,668.94 840.74,668.94" fill="url(#g269)"/><rect x="840.74" y="621.42" width="23.18" height="40.73" fill="#1159ff"/><polygon points="840.74,614.64 863.92,614.64 863.92,621.42" fill="url(#g270)"/><polygon points="840.74,614.64 863.92,621.42 840.74,621.42" fill="url(#g271)"/><rect x="863.92" y="668.94" width="23.18" height="20.36" fill="#9500ff"/><polygon points="863.92,662.15 887.1,662.15 887.1,668.94" fill="url(#g272)"/><polygon points="863.92,662.15 887.1,668.94 863.92,668.94" fill="url(#g273)"/><rect x="863.92" y="628.21" width="23.18" height="33.94" fill="#1159ff"/><polygon points="863.92,621.42 887.1,621.42 887.1,628.21" fill="url(#g274)"/><polygon points="863.92,621.42 887.1,628.21 863.92,628.21" fill="#1159ff"/><polygon points="863.92,614.64 887.1,621.42 863.92,621.42" fill="url(#g275)"/><rect x="887.1" y="675.72" width="23.18" height="13.58" fill="#9500ff"/><polygon points="887.1,668.94 910.28,668.94 910.28,675.72" fill="url(#g276)"/><polygon points="887.1,668.94 910.28,675.72 887.1,675.72" fill="#9500ff"/><polygon points="887.1,662.15 910.28,662.15 910.28,668.94" fill="#1159ff"/><polygon points="887.1,662.15 910.28,668.94 887.1,668.94" fill="url(#g277)"/><rect x="887.1" y="628.21" width="23.18" height="33.94" fill="#1159ff"/><polygon points="887.1,621.42 910.28,621.42 910.28,628.21" fill="url(#g278)"/><polygon points="887.1,621.42 910.28,628.21 887.1,628.21" fill="url(#g279)"/><rect x="910.28" y="675.72" width="23.18" height="13.58" fill="#9500ff"/><polygon points="910.28,668.94 933.46,668.94 933.46,675.72" fill="url(#g280)"/><polygon points="910.28,668.94 933.46,675.72 910.28,675.72" fill="url(#g281)"/><rect x="910.28" y="628.21" width="23.18" height="40.73" fill="#1159ff"/><polygon points="910.28,621.42 933.46,621.42 933.46,628.21" fill="url(#g282)"/><polygon points="910.28,621.42 933.46,628.21 910.28,628.21" fill="url(#g283)"/><rect x="933.46" y="675.72" width="23.18" height="13.58" fill="#9500ff"/><polygon points="933.46,668.94 956.64,668.94 956.64,675.72" fill="url(#g284)"/><polygon points="933.46,668.94 956.64,675.72 933.46,675.72" fill="url(#g285)"/><rect x="933.46" y="635" width="23.18" height="33.94" fill="#1159ff"/><polygon points="933.46,628.21 956.64,628.21 956.64,635" fill="url(#g286)"/><polygon points="933.46,628.21 956.64,635 933.46,635" fill="#1159ff"/><polygon points="933.46,621.42 956.64,628.21 933.46,628.21" fill="url(#g287)"/><rect x="956.64" y="675.72" width="23.18" height="13.58" fill="#9500ff"/><polygon points="956.64,668.94 979.82,668.94 979.82,675.72" fill="url(#g288)"/><polygon points="956.64,668.94 979.82,675.72 956.64,675.72" fill="url(#g289)"/><rect x="956.64" y="635" width="23.18" height="33.94" fill="#1159ff"/><polygon points="956.64,628.21 979.82,628.21 979.82,635" fill="url(#g290)"/><polygon points="956.64,628.21 979.82,635 956.64,635" fill="url(#g291)"/><rect x="979.82" y="675.72" width="23.18" height="13.58" fill="#9500ff"/><polygon points="979.82,668.94 1003,668.94 1003,675.72" fill="url(#g292)"/><polygon points="979.82,668.94 1003,675.72 979.82,675.72" fill="url(#g293)"/><rect x="979.82" y="635" width="23.18" height="33.94" fill="#1159ff"/><polygon points="979.82,628.21 1003,628.21 1003,635" fill="url(#g294)"/><polygon points="979.82,628.21 1003,635 979.82,635" fill="url(#g295)"/></g><polyline clip-path="url(#pc)" points="99,241.32 101.27,258.42 103.53,273.67 105.8,287.41 108.06,299.89 110.33,311.3 112.59,321.8 114.86,331.5 117.13,340.53 119.39,348.94 121.66,356.82 123.92,364.22 126.19,371.2 128.45,377.79 130.72,384.03 132.98,389.96 135.25,395.59 137.52,400.97 139.78,406.1 142.05,411 144.31,415.7 146.58,420.21 148.84,424.54 151.11,428.71 153.38,432.72 155.64,436.58 157.91,440.31 160.17,443.92 162.44,447.4 164.7,450.77 166.97,454.04 169.24,457.2 171.5,460.27 173.77,463.25 176.03,466.15 178.3,468.96 180.56,471.7 182.83,474.36 185.1,476.96 187.36,479.49 189.63,481.95 191.89,484.36 194.16,486.7 196.42,488.99 198.69,491.23 200.95,493.42 203.22,495.55 205.49,497.64 207.75,499.69 210.02,501.69 212.28,503.65 214.55,505.57 216.81,507.45 219.08,509.29 221.35,511.1 223.61,512.87 225.88,514.61 228.14,516.31 230.41,517.99 232.67,519.63 234.94,521.25 237.21,522.83 239.47,524.39 241.74,525.92 244,527.43 246.27,528.91 248.53,530.37 250.8,531.8 253.07,533.21 255.33,534.6 257.6,535.96 259.86,537.31 262.13,538.63 264.39,539.94 266.66,541.22 268.92,542.49 271.19,543.73 273.46,544.96 275.72,546.18 277.99,547.37 280.25,548.55 282.52,549.71 284.78,550.86 287.05,551.99 289.32,553.11 291.58,554.21 293.85,555.3 296.11,556.37 298.38,557.43 300.64,558.48 302.91,559.51 305.18,560.53 307.44,561.54 309.71,562.54 311.97,563.52 314.24,564.5 316.5,565.46 318.77,566.41 321.04,567.35 323.3,568.28 325.57,569.2 327.83,570.1 330.1,571 332.36,571.89 334.63,572.77 336.89,573.64 339.16,574.5 341.43,575.35 343.69,576.2 345.96,577.03 348.22,577.86 350.49,578.68 352.75,579.49 355.02,580.29 357.29,581.08 359.55,581.87 361.82,582.65 364.08,583.42 366.35,584.18 368.61,584.94 370.88,585.69 373.15,586.44 375.41,587.17 377.68,587.9 379.94,588.63 382.21,589.34 384.47,590.06 386.74,590.76 389.01,591.46 391.27,592.15 393.54,592.84 395.8,593.52 398.07,594.2 400.33,594.87 402.6,595.54 404.86,596.2 407.13,596.85 409.4,597.5 411.66,598.14 413.93,598.78 416.19,599.42 418.46,600.05 420.72,600.67 422.99,601.29 425.26,601.91 427.52,602.52 429.79,603.12 432.05,603.72 434.32,604.32 436.58,604.91 438.85,605.5 441.12,606.08 443.38,606.66 445.65,607.24 447.91,607.81 450.18,608.37 452.44,608.94 454.71,609.49 456.97,610.05 459.24,610.6 461.51,611.14 463.77,611.68 466.04,612.22 468.3,612.75 470.57,613.28 472.83,613.8 475.1,614.32 477.37,614.84 479.63,615.35 481.9,615.86 484.16,616.37 486.43,616.87 488.69,617.37 490.96,617.86 493.23,618.35 495.49,618.84 497.76,619.32 500.02,619.8 502.29,620.27 504.55,620.74 506.82,621.21 509.09,621.67 511.35,622.13 513.62,622.59 515.88,623.04 518.15,623.49 520.41,623.93 522.68,624.37 524.94,624.81 527.21,625.25 529.48,625.68 531.74,626.11 534.01,626.53 536.27,626.95 538.54,627.37 540.8,627.79 543.07,628.2 545.34,628.61 547.6,629.01 549.87,629.42 552.13,629.82 554.4,630.21 556.66,630.61 558.93,631 561.2,631.39 563.46,631.77 565.73,632.16 567.99,632.54 570.26,632.91 572.52,633.29 574.79,633.66 577.06,634.03 579.32,634.4 581.59,634.76 583.85,635.13 586.12,635.49 588.38,635.85 590.65,636.2 592.91,636.56 595.18,636.91 597.45,637.26 599.71,637.61 601.98,637.96 604.24,638.3 606.51,638.64 608.77,638.98 611.04,639.32 613.31,639.66 615.57,640 617.84,640.33 620.1,640.66 622.37,640.99 624.63,641.32 626.9,641.65 629.17,641.98 631.43,642.3 633.7,642.63 635.96,642.95 638.23,643.27 640.49,643.59 642.76,643.91 645.03,644.22 647.29,644.54 649.56,644.85 651.82,645.16 654.09,645.47 656.35,645.78 658.62,646.09 660.88,646.4 663.15,646.71 665.42,647.01 667.68,647.32 669.95,647.62 672.21,647.92 674.48,648.22 676.74,648.52 679.01,648.82 681.28,649.11 683.54,649.41 685.81,649.7 688.07,650 690.34,650.29 692.6,650.58 694.87,650.87 697.14,651.16 699.4,651.45 701.67,651.74 703.93,652.02 706.2,652.31 708.46,652.59 710.73,652.87 712.99,653.15 715.26,653.43 717.53,653.71 719.79,653.99 722.06,654.27 724.32,654.54 726.59,654.82 728.85,655.09 731.12,655.36 733.39,655.63 735.65,655.9 737.92,656.17 740.18,656.44 742.45,656.71 744.71,656.97 746.98,657.24 749.25,657.5 751.51,657.77 753.78,658.03 756.04,658.29 758.31,658.55 760.57,658.81 762.84,659.07 765.11,659.32 767.37,659.58 769.64,659.83 771.9,660.09 774.17,660.34 776.43,660.59 778.7,660.84 780.96,661.09 783.23,661.34 785.5,661.59 787.76,661.84 790.03,662.08 792.29,662.33 794.56,662.57 796.82,662.82 799.09,663.06 801.36,663.3 803.62,663.54 805.89,663.78 808.15,664.02 810.42,664.25 812.68,664.49 814.95,664.73 817.22,664.96 819.48,665.2 821.75,665.43 824.01,665.66 826.28,665.89 828.54,666.12 830.81,666.35 833.08,666.58 835.34,666.81 837.61,667.04 839.87,667.26 842.14,667.49 844.4,667.71 846.67,667.94 848.93,668.16 851.2,668.38 853.47,668.6 855.73,668.82 858,669.04 860.26,669.26 862.53,669.48 864.79,669.7 867.06,669.92 869.33,670.13 871.59,670.35 873.86,670.56 876.12,670.77 878.39,670.99 880.65,671.2 882.92,671.41 885.19,671.62 887.45,671.83 889.72,672.04 891.98,672.25 894.25,672.46 896.51,672.66 898.78,672.87 901.05,673.08 903.31,673.28 905.58,673.48 907.84,673.69 910.11,673.89 912.37,674.09 914.64,674.29 916.9,674.5 919.17,674.7 921.44,674.9 923.7,675.09 925.97,675.29 928.23,675.49 930.5,675.69 932.76,675.88 935.03,676.08 937.3,676.27 939.56,676.47 941.83,676.66 944.09,676.85 946.36,677.05 948.62,677.24 950.89,677.43 953.16,677.62 955.42,677.81 957.69,678 959.95,678.19 962.22,678.37 964.48,678.56 966.75,678.75 969.02,678.94 971.28,679.12 973.55,679.31 975.81,679.49 978.08,679.67 980.34,679.86 982.61,680.04 984.87,680.22 987.14,680.4 989.41,680.59 991.67,680.77 993.94,680.95 996.2,681.13 998.47,681.3 1000.73,681.48 1003,681.66" fill="none" stroke="#fff" stroke-opacity=".75" stroke-width="1" shape-rendering="crispEdges"/><path d="M99 10.5H1003M99 689.5H1003" stroke="#000" stroke-opacity=".55" stroke-width="1" fill="none"/><path d="M99 10V690M1003 10V690" stroke="#000" stroke-opacity=".45" stroke-width="1" fill="none"/><path d="M99 553.5h13M99 417.5h13M99 282.5h13M99 146.5h13M99 621.5h6.5M99 485.5h6.5M99 349.5h6.5M99 214.5h6.5M99 78.5h6.5M191.5 689v-13M307.5 689v-13M423.5 689v-13M539.5 689v-13M655.5 689v-13M771.5 689v-13M887.5 689v-13M133.5 689v-6.5M249.5 689v-6.5M365.5 689v-6.5M481.5 689v-6.5M597.5 689v-6.5M713.5 689v-6.5M829.5 689v-6.5M945.5 689v-6.5" stroke="#000" stroke-opacity=".5" stroke-width="1" fill="none"/><g font-size="28.5" fill="#000" filter="url(#nf)"><text x="85" y="698.5" text-anchor="end">0.40</text><text x="85" y="562.75" text-anchor="end">0.60</text><text x="85" y="427" text-anchor="end">0.80</text><text x="85" y="291.25" text-anchor="end">1.00</text><text x="85" y="155.5" text-anchor="end">1.20</text><text x="85" y="19.75" text-anchor="end">1.40</text><text x="99" y="725.3" text-anchor="middle">0.1</text><text x="191.72" y="725.3" text-anchor="middle">0.5</text><text x="307.62" y="725.3" text-anchor="middle">1.0</text><text x="423.51" y="725.3" text-anchor="middle">1.5</text><text x="539.41" y="725.3" text-anchor="middle">2.0</text><text x="655.31" y="725.3" text-anchor="middle">2.5</text><text x="771.21" y="725.3" text-anchor="middle">3.0</text><text x="887.1" y="725.3" text-anchor="middle">3.5</text><text x="1003" y="725.3" text-anchor="middle">4.0</text></g><text x="551.5" y="780.5" font-size="37" font-style="italic" text-anchor="middle" filter="url(#nf)">d</text><path d="M-1,344.5C0,341.5 2,339.6 5,339.7C10,340 14.6,343.8 15.9,348.8C16.6,352 15,354.6 12,354.6" fill="none" stroke="#000" stroke-width="1.5"/><path d="M-1,351.6C2,350.6 4.5,350.9 7.5,352.3C9.5,353.3 11,354.4 13,354.4" fill="none" stroke="#000" stroke-width="2.6"/><g font-size="44.3" fill="#fff" filter="url(#nf)"><text x="212" y="226.6">critical velocity curve</text><text x="224" y="372.2">vortex pairs</text><text x="664.5" y="332.4">irregular</text><text x="416.5" y="468.1">vortex street</text><text x="665" y="547">vortex dipoles</text><text x="155" y="637.3">no vortex</text></g><text x="763.8" y="77.5" font-size="57" fill="#fff" filter="url(#nf)"><tspan font-size="37" dy="-22.5">85</tspan><tspan dy="22.5">Rb-</tspan><tspan font-size="37" dy="-22.5">87</tspan><tspan dy="22.5">Rb</tspan></text><path d="M212.3 236.3L131.5 337.5M240.4 389V453M494.5 485.4V549M776.9 564.8V628" stroke="#fff" stroke-opacity=".8" stroke-width="1" fill="none"/><polygon points="120.7,350.6 128.6,335 135,339.6" fill="#fff"/><polygon points="240.4,469 236.2,452 244.4,452" fill="#fff"/><polygon points="494.5,565.2 490.8,548.8 498.2,548.8" fill="#fff"/><polygon points="776.9,644 773,627.6 781,627.6" fill="#fff"/></svg></body></html>
